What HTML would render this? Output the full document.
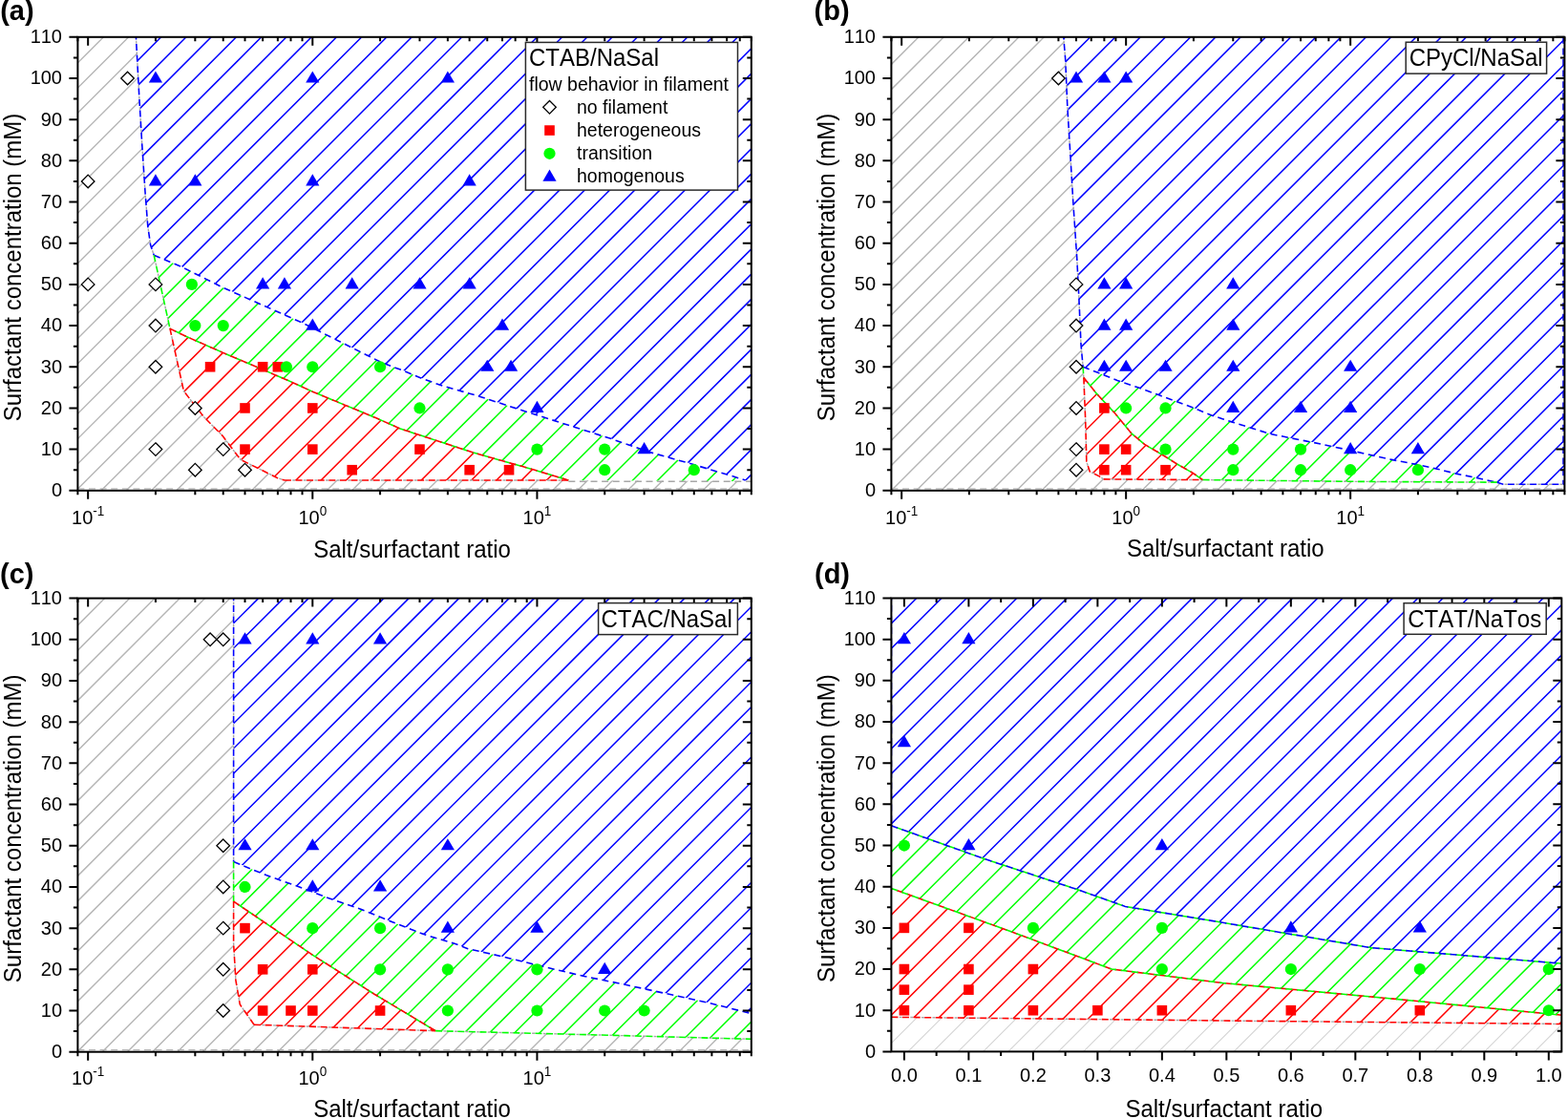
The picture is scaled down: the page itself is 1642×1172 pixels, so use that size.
<!DOCTYPE html>
<html><head><meta charset="utf-8"><title>Phase diagrams</title>
<style>html,body{margin:0;padding:0;background:#fff;overflow:hidden}svg{display:block}
text{font-family:"Liberation Sans",Arial,sans-serif;fill:#000;font-kerning:none}</style></head>
<body><svg width="1642" height="1172" viewBox="0 0 1642 1172">
<defs><clipPath id="p1"><rect x="81.4" y="38.8" width="705.4" height="475"/></clipPath><clipPath id="c2"><path d="M142.43 34.48 L142.43 38.8 L145.74 100.55 L148.72 151.07 L152.01 201.16 L154.76 236.57 L157.65 256.87 L161.19 267.23 L189.89 279.32 L232.9 300.91 L316.53 338.05 L400.1 379.94 L423.28 388.57 L440.83 395.91 L460.9 403.25 L501.19 414.91 L543.4 428.73 L640.12 459.61 L681.2 473.81 L720.46 484.87 L758.78 496.18 L780.72 503 L792.32 503 L792.32 34.48 Z"/></clipPath><clipPath id="c3"><path d="M161.19 267.23 L177.97 344.1 L194.72 352.3 L232.95 369.14 L299.8 397.64 L327.29 410.16 L361.65 424.41 L393.91 437.8 L419.21 449.03 L495.65 474.07 L555.45 490.91 L595.32 503 L792.32 504.3 L792.32 503 L780.72 503 L758.78 496.18 L720.46 484.87 L681.2 473.81 L640.12 459.61 L543.4 428.73 L501.19 414.91 L460.9 403.25 L440.83 395.91 L423.28 388.57 L400.1 379.94 L316.53 338.05 L232.9 300.91 L189.89 279.32 Z"/></clipPath><clipPath id="c4"><path d="M177.97 344.1 L192.45 409.73 L213.77 436.94 L232.95 456.37 L251.92 481.41 L290.28 500.41 L297.92 503 L595.32 503 L555.45 490.91 L495.65 474.07 L419.21 449.03 L393.91 437.8 L361.65 424.41 L327.29 410.16 L299.8 397.64 L232.95 369.14 L194.72 352.3 L177.97 344.1 Z"/></clipPath><clipPath id="p5"><rect x="933.4" y="38.8" width="705" height="475"/></clipPath><clipPath id="c6"><path d="M1113.78 34.48 L1113.78 38.8 L1115.7 62.55 L1117.77 111.35 L1120.88 162.73 L1123.91 213.69 L1127.7 269.39 L1129.87 312.14 L1132 360.94 L1134.08 383.82 L1149.79 390.3 L1170.09 398.5 L1191.63 405.85 L1213.13 413.62 L1230.88 420.1 L1251.41 427.87 L1269.35 435.21 L1280.14 438.66 L1290.59 442.12 L1329.9 454.38 L1351.08 458.7 L1372.52 462.85 L1394.64 467.6 L1415.17 471.91 L1437.74 477.1 L1459.54 481.85 L1481.79 486.16 L1503.93 490.91 L1524.91 496.1 L1545.73 500.41 L1567.66 505.16 L1574.24 507.32 L1643.92 507.32 L1643.92 34.48 Z"/></clipPath><clipPath id="c7"><path d="M1134.08 384.25 L1134.87 395.48 L1148.01 411.89 L1167.72 433.05 L1185.1 454.21 L1198.61 465.44 L1219.16 477.53 L1232.1 485.73 L1248.87 495.23 L1259.62 502.57 L1414.15 504.3 L1567.66 505.16 L1545.73 500.41 L1524.91 496.1 L1503.93 490.91 L1481.79 486.16 L1459.54 481.85 L1437.74 477.1 L1415.17 471.91 L1394.64 467.6 L1372.52 462.85 L1351.08 458.7 L1329.9 454.38 L1290.59 442.12 L1280.14 438.66 L1269.35 435.21 L1251.41 427.87 L1230.88 420.1 L1213.13 413.62 L1191.63 405.85 L1170.09 398.5 L1149.79 390.3 Z"/></clipPath><clipPath id="c8"><path d="M1134.87 395.48 L1136.75 441.69 L1137.82 483.57 L1141.28 493.94 L1151.14 498.9 L1155.74 501.92 L1259.62 502.57 L1248.87 495.23 L1232.1 485.73 L1219.16 477.53 L1198.61 465.44 L1185.1 454.21 L1167.72 433.05 L1148.01 411.89 L1134.87 395.48 Z"/></clipPath><clipPath id="p9"><rect x="81.4" y="626.6" width="705.4" height="475.1"/></clipPath><clipPath id="c10"><path d="M244.61 622.28 L244.61 902.59 L279.3 916.84 L312.25 928.5 L345.06 941.03 L377.81 952.26 L411.01 965.65 L443.81 978.61 L476.72 988.54 L490 993.72 L526.44 1001.93 L570.28 1012.73 L610.42 1022.23 L654.76 1031.3 L696.3 1040.37 L742.11 1050.3 L786.35 1061.53 L792.32 1062.83 L792.32 622.28 Z"/></clipPath><clipPath id="c11"><path d="M244.61 902.59 L244.61 944.05 L328 1000.63 L392.03 1041.23 L456.09 1079.67 L490 1080.54 L636.23 1084.21 L786.35 1088.31 L792.32 1088.53 L792.32 1062.83 L786.35 1061.53 L742.11 1050.3 L696.3 1040.37 L654.76 1031.3 L610.42 1022.23 L570.28 1012.73 L526.44 1001.93 L490 993.72 L476.72 988.54 L443.81 978.61 L411.01 965.65 L377.81 952.26 L345.06 941.03 L312.25 928.5 L279.3 916.84 Z"/></clipPath><clipPath id="c12"><path d="M244.61 944.05 L244.61 988.11 L246.88 1026.55 L251.27 1052.03 L266.06 1073.19 L456.09 1079.67 L392.03 1041.23 L328 1000.63 L244.61 944.05 Z"/></clipPath><clipPath id="p13"><rect x="933.4" y="626.5" width="701.9" height="474.9"/></clipPath><clipPath id="c14"><path d="M926.65 622.18 L926.65 863.09 L933.4 864.81 L1030.32 899.35 L1128.45 931.73 L1178.39 949.43 L1280.3 966.27 L1435.26 992.6 L1633.28 1009.01 L1642.05 1009.44 L1642.05 622.18 Z"/></clipPath><clipPath id="c15"><path d="M926.65 863.09 L933.4 864.81 L1030.32 899.35 L1128.45 931.73 L1178.39 949.43 L1280.3 966.27 L1435.26 992.6 L1633.28 1009.01 L1642.05 1009.44 L1642.05 1063.41 L1633.28 1062.98 L1459.15 1046.14 L1280.3 1029.52 L1164.22 1015.05 L1058.93 975.77 L933.4 930.44 L926.65 928.71 Z"/></clipPath><clipPath id="c16"><path d="M926.65 928.71 L933.4 930.44 L1058.93 975.77 L1164.22 1015.05 L1280.3 1029.52 L1459.15 1046.14 L1633.28 1062.98 L1642.05 1063.41 L1642.05 1072.47 L1633.28 1072.47 L1280.3 1069.02 L933.4 1065.31 L926.65 1065.13 Z"/></clipPath></defs>
<rect width="1642" height="1172" fill="#fff"/>
<g clip-path="url(#p1)">
<path d="M81.4 39.6 L82.2 38.8M81.4 65.85 L108.45 38.8M81.4 92.1 L134.7 38.8M81.4 118.35 L160.95 38.8M81.4 144.6 L187.2 38.8M81.4 170.85 L213.45 38.8M81.4 197.1 L239.7 38.8M81.4 223.35 L265.95 38.8M81.4 249.6 L292.2 38.8M81.4 275.85 L318.45 38.8M81.4 302.1 L344.7 38.8M81.4 328.35 L370.95 38.8M81.4 354.6 L397.2 38.8M81.4 380.85 L423.45 38.8M81.4 407.1 L449.7 38.8M81.4 433.35 L475.95 38.8M81.4 459.6 L502.2 38.8M81.4 485.85 L528.45 38.8M81.4 512.1 L554.7 38.8M105.95 513.8 L580.95 38.8M132.2 513.8 L607.2 38.8M158.45 513.8 L633.45 38.8M184.7 513.8 L659.7 38.8M210.95 513.8 L685.95 38.8M237.2 513.8 L712.2 38.8M263.45 513.8 L738.45 38.8M289.7 513.8 L764.7 38.8M315.95 513.8 L786.8 42.95M342.2 513.8 L786.8 69.2M368.45 513.8 L786.8 95.45M394.7 513.8 L786.8 121.7M420.95 513.8 L786.8 147.95M447.2 513.8 L786.8 174.2M473.45 513.8 L786.8 200.45M499.7 513.8 L786.8 226.7M525.95 513.8 L786.8 252.95M552.2 513.8 L786.8 279.2M578.45 513.8 L786.8 305.45M604.7 513.8 L786.8 331.7M630.95 513.8 L786.8 357.95M657.2 513.8 L786.8 384.2M683.45 513.8 L786.8 410.45M709.7 513.8 L786.8 436.7M735.95 513.8 L786.8 462.95M762.2 513.8 L786.8 489.2" stroke="#b5b5b5" stroke-width="1.4" fill="none"/>
</g>
<g clip-path="url(#p1)">
<path d="M142.43 34.48 L142.43 38.8 L145.74 100.55 L148.72 151.07 L152.01 201.16 L154.76 236.57 L157.65 256.87 L161.19 267.23 L189.89 279.32 L232.9 300.91 L316.53 338.05 L400.1 379.94 L423.28 388.57 L440.83 395.91 L460.9 403.25 L501.19 414.91 L543.4 428.73 L640.12 459.61 L681.2 473.81 L720.46 484.87 L758.78 496.18 L780.72 503 L792.32 503 L792.32 34.48 Z" fill="#fff"/>
<path clip-path="url(#c2)" d="M81.4 47.4 L90 38.8M81.4 73.65 L116.25 38.8M81.4 99.9 L142.5 38.8M81.4 126.15 L168.75 38.8M81.4 152.4 L195 38.8M81.4 178.65 L221.25 38.8M81.4 204.9 L247.5 38.8M81.4 231.15 L273.75 38.8M81.4 257.4 L300 38.8M81.4 283.65 L326.25 38.8M81.4 309.9 L352.5 38.8M81.4 336.15 L378.75 38.8M81.4 362.4 L405 38.8M81.4 388.65 L431.25 38.8M81.4 414.9 L457.5 38.8M81.4 441.15 L483.75 38.8M81.4 467.4 L510 38.8M81.4 493.65 L536.25 38.8M87.5 513.8 L562.5 38.8M113.75 513.8 L588.75 38.8M140 513.8 L615 38.8M166.25 513.8 L641.25 38.8M192.5 513.8 L667.5 38.8M218.75 513.8 L693.75 38.8M245 513.8 L720 38.8M271.25 513.8 L746.25 38.8M297.5 513.8 L772.5 38.8M323.75 513.8 L786.8 50.75M350 513.8 L786.8 77M376.25 513.8 L786.8 103.25M402.5 513.8 L786.8 129.5M428.75 513.8 L786.8 155.75M455 513.8 L786.8 182M481.25 513.8 L786.8 208.25M507.5 513.8 L786.8 234.5M533.75 513.8 L786.8 260.75M560 513.8 L786.8 287M586.25 513.8 L786.8 313.25M612.5 513.8 L786.8 339.5M638.75 513.8 L786.8 365.75M665 513.8 L786.8 392M691.25 513.8 L786.8 418.25M717.5 513.8 L786.8 444.5M743.75 513.8 L786.8 470.75M770 513.8 L786.8 497" stroke="#0000ff" stroke-width="1.55" fill="none"/>
</g>
<g clip-path="url(#p1)">
<path d="M161.19 267.23 L177.97 344.1 L194.72 352.3 L232.95 369.14 L299.8 397.64 L327.29 410.16 L361.65 424.41 L393.91 437.8 L419.21 449.03 L495.65 474.07 L555.45 490.91 L595.32 503 L792.32 504.3 L792.32 503 L780.72 503 L758.78 496.18 L720.46 484.87 L681.2 473.81 L640.12 459.61 L543.4 428.73 L501.19 414.91 L460.9 403.25 L440.83 395.91 L423.28 388.57 L400.1 379.94 L316.53 338.05 L232.9 300.91 L189.89 279.32 Z" fill="#fff"/>
<path clip-path="url(#c3)" d="M81.4 60.45 L103.05 38.8M81.4 86.7 L129.3 38.8M81.4 112.95 L155.55 38.8M81.4 139.2 L181.8 38.8M81.4 165.45 L208.05 38.8M81.4 191.7 L234.3 38.8M81.4 217.95 L260.55 38.8M81.4 244.2 L286.8 38.8M81.4 270.45 L313.05 38.8M81.4 296.7 L339.3 38.8M81.4 322.95 L365.55 38.8M81.4 349.2 L391.8 38.8M81.4 375.45 L418.05 38.8M81.4 401.7 L444.3 38.8M81.4 427.95 L470.55 38.8M81.4 454.2 L496.8 38.8M81.4 480.45 L523.05 38.8M81.4 506.7 L549.3 38.8M100.55 513.8 L575.55 38.8M126.8 513.8 L601.8 38.8M153.05 513.8 L628.05 38.8M179.3 513.8 L654.3 38.8M205.55 513.8 L680.55 38.8M231.8 513.8 L706.8 38.8M258.05 513.8 L733.05 38.8M284.3 513.8 L759.3 38.8M310.55 513.8 L785.55 38.8M336.8 513.8 L786.8 63.8M363.05 513.8 L786.8 90.05M389.3 513.8 L786.8 116.3M415.55 513.8 L786.8 142.55M441.8 513.8 L786.8 168.8M468.05 513.8 L786.8 195.05M494.3 513.8 L786.8 221.3M520.55 513.8 L786.8 247.55M546.8 513.8 L786.8 273.8M573.05 513.8 L786.8 300.05M599.3 513.8 L786.8 326.3M625.55 513.8 L786.8 352.55M651.8 513.8 L786.8 378.8M678.05 513.8 L786.8 405.05M704.3 513.8 L786.8 431.3M730.55 513.8 L786.8 457.55M756.8 513.8 L786.8 483.8M783.05 513.8 L786.8 510.05" stroke="#00ff00" stroke-width="1.5" fill="none"/>
</g>
<g clip-path="url(#p1)">
<path d="M177.97 344.1 L192.45 409.73 L213.77 436.94 L232.95 456.37 L251.92 481.41 L290.28 500.41 L297.92 503 L595.32 503 L555.45 490.91 L495.65 474.07 L419.21 449.03 L393.91 437.8 L361.65 424.41 L327.29 410.16 L299.8 397.64 L232.95 369.14 L194.72 352.3 L177.97 344.1 Z" fill="#fff"/>
<path clip-path="url(#c4)" d="M81.4 49 L91.6 38.8M81.4 75.25 L117.85 38.8M81.4 101.5 L144.1 38.8M81.4 127.75 L170.35 38.8M81.4 154 L196.6 38.8M81.4 180.25 L222.85 38.8M81.4 206.5 L249.1 38.8M81.4 232.75 L275.35 38.8M81.4 259 L301.6 38.8M81.4 285.25 L327.85 38.8M81.4 311.5 L354.1 38.8M81.4 337.75 L380.35 38.8M81.4 364 L406.6 38.8M81.4 390.25 L432.85 38.8M81.4 416.5 L459.1 38.8M81.4 442.75 L485.35 38.8M81.4 469 L511.6 38.8M81.4 495.25 L537.85 38.8M89.1 513.8 L564.1 38.8M115.35 513.8 L590.35 38.8M141.6 513.8 L616.6 38.8M167.85 513.8 L642.85 38.8M194.1 513.8 L669.1 38.8M220.35 513.8 L695.35 38.8M246.6 513.8 L721.6 38.8M272.85 513.8 L747.85 38.8M299.1 513.8 L774.1 38.8M325.35 513.8 L786.8 52.35M351.6 513.8 L786.8 78.6M377.85 513.8 L786.8 104.85M404.1 513.8 L786.8 131.1M430.35 513.8 L786.8 157.35M456.6 513.8 L786.8 183.6M482.85 513.8 L786.8 209.85M509.1 513.8 L786.8 236.1M535.35 513.8 L786.8 262.35M561.6 513.8 L786.8 288.6M587.85 513.8 L786.8 314.85M614.1 513.8 L786.8 341.1M640.35 513.8 L786.8 367.35M666.6 513.8 L786.8 393.6M692.85 513.8 L786.8 419.85M719.1 513.8 L786.8 446.1M745.35 513.8 L786.8 472.35M771.6 513.8 L786.8 498.6" stroke="#ff0000" stroke-width="1.5" fill="none"/>
</g>
<path d="M81.4 511.8 H786.8" stroke="#b8b8b8" stroke-width="1.2" stroke-dasharray="7 4.6" fill="none"/>
<path clip-path="url(#p1)" d="M142.43 34.48 L142.43 38.8 L145.74 100.55 L148.72 151.07 L152.01 201.16 L154.76 236.57 L157.65 256.87 L161.19 267.23" stroke="#a8a8a8" stroke-width="1.4" fill="none" stroke-dasharray="3 8.6" stroke-dashoffset="3.3"/>
<path clip-path="url(#p1)" d="M161.19 267.23 L177.97 344.1" stroke="#a8a8a8" stroke-width="1.4" fill="none" stroke-dasharray="3 8.6" stroke-dashoffset="3.3"/>
<path clip-path="url(#p1)" d="M177.97 344.1 L194.72 352.3 L232.95 369.14 L299.8 397.64 L327.29 410.16 L361.65 424.41 L393.91 437.8 L419.21 449.03 L495.65 474.07 L555.45 490.91 L595.32 503" stroke="#00ff00" stroke-width="1.55" fill="none" stroke-dasharray="7 4.6" stroke-dashoffset="5.8"/>
<path clip-path="url(#p1)" d="M177.97 344.1 L192.45 409.73 L213.77 436.94 L232.95 456.37 L251.92 481.41 L290.28 500.41 L297.92 503" stroke="#a8a8a8" stroke-width="1.4" fill="none" stroke-dasharray="3 8.6" stroke-dashoffset="3.3"/>
<path clip-path="url(#p1)" d="M297.92 503 L595.32 503" stroke="#a8a8a8" stroke-width="1.4" fill="none" stroke-dasharray="3 8.6" stroke-dashoffset="3.3"/>
<path clip-path="url(#p1)" d="M142.43 34.48 L142.43 38.8 L145.74 100.55 L148.72 151.07 L152.01 201.16 L154.76 236.57 L157.65 256.87 L161.19 267.23" stroke="#0000ff" stroke-width="1.6" fill="none" stroke-dasharray="7 4.6" stroke-dashoffset="0"/>
<path clip-path="url(#p1)" d="M161.19 267.23 L189.89 279.32 L232.9 300.91 L316.53 338.05 L400.1 379.94 L423.28 388.57 L440.83 395.91 L460.9 403.25 L501.19 414.91 L543.4 428.73 L640.12 459.61 L681.2 473.81 L720.46 484.87 L758.78 496.18 L780.72 503" stroke="#0000ff" stroke-width="1.6" fill="none" stroke-dasharray="7 4.6" stroke-dashoffset="0"/>
<path clip-path="url(#p1)" d="M161.19 267.23 L177.97 344.1" stroke="#00ff00" stroke-width="1.6" fill="none" stroke-dasharray="7 4.6" stroke-dashoffset="0"/>
<path clip-path="url(#p1)" d="M177.97 344.1 L194.72 352.3 L232.95 369.14 L299.8 397.64 L327.29 410.16 L361.65 424.41 L393.91 437.8 L419.21 449.03 L495.65 474.07 L555.45 490.91 L595.32 503" stroke="#ff0000" stroke-width="1.6" fill="none" stroke-dasharray="7 4.6" stroke-dashoffset="0"/>
<path clip-path="url(#p1)" d="M177.97 344.1 L192.45 409.73 L213.77 436.94 L232.95 456.37 L251.92 481.41 L290.28 500.41 L297.92 503" stroke="#ff0000" stroke-width="1.6" fill="none" stroke-dasharray="7 4.6" stroke-dashoffset="0"/>
<path clip-path="url(#p1)" d="M297.92 503 L595.32 503" stroke="#ff0000" stroke-width="1.6" fill="none" stroke-dasharray="7 4.6" stroke-dashoffset="0"/>
<path clip-path="url(#p1)" d="M595.32 504.3 L792.32 504.3" stroke="#a8a8a8" stroke-width="1.6" fill="none" stroke-dasharray="7 4.6" stroke-dashoffset="0"/>
<path d="M133.56 75.18 L140.36 81.98 L133.56 88.78 L126.76 81.98 Z" fill="#fff" stroke="#000" stroke-width="1.3"/>
<path d="M92.16 183.14 L98.96 189.94 L92.16 196.74 L85.36 189.94 Z" fill="#fff" stroke="#000" stroke-width="1.3"/>
<path d="M92.16 291.09 L98.96 297.89 L92.16 304.69 L85.36 297.89 Z" fill="#fff" stroke="#000" stroke-width="1.3"/>
<path d="M162.94 291.09 L169.74 297.89 L162.94 304.69 L156.14 297.89 Z" fill="#fff" stroke="#000" stroke-width="1.3"/>
<path d="M162.94 334.27 L169.74 341.07 L162.94 347.87 L156.14 341.07 Z" fill="#fff" stroke="#000" stroke-width="1.3"/>
<path d="M162.94 377.45 L169.74 384.25 L162.94 391.05 L156.14 384.25 Z" fill="#fff" stroke="#000" stroke-width="1.3"/>
<path d="M162.94 463.82 L169.74 470.62 L162.94 477.42 L156.14 470.62 Z" fill="#fff" stroke="#000" stroke-width="1.3"/>
<path d="M204.35 420.64 L211.15 427.44 L204.35 434.24 L197.55 427.44 Z" fill="#fff" stroke="#000" stroke-width="1.3"/>
<path d="M204.35 485.41 L211.15 492.21 L204.35 499.01 L197.55 492.21 Z" fill="#fff" stroke="#000" stroke-width="1.3"/>
<path d="M233.72 463.82 L240.52 470.62 L233.72 477.42 L226.92 470.62 Z" fill="#fff" stroke="#000" stroke-width="1.3"/>
<path d="M256.51 485.41 L263.31 492.21 L256.51 499.01 L249.71 492.21 Z" fill="#fff" stroke="#000" stroke-width="1.3"/>
<rect x="214.79" y="378.95" width="10.6" height="10.6" fill="#f00"/>
<rect x="269.83" y="378.95" width="10.6" height="10.6" fill="#f00"/>
<rect x="285.57" y="378.95" width="10.6" height="10.6" fill="#f00"/>
<rect x="251.21" y="422.14" width="10.6" height="10.6" fill="#f00"/>
<rect x="251.21" y="465.32" width="10.6" height="10.6" fill="#f00"/>
<rect x="321.99" y="422.14" width="10.6" height="10.6" fill="#f00"/>
<rect x="321.99" y="465.32" width="10.6" height="10.6" fill="#f00"/>
<rect x="363.4" y="486.91" width="10.6" height="10.6" fill="#f00"/>
<rect x="434.18" y="465.32" width="10.6" height="10.6" fill="#f00"/>
<rect x="486.34" y="486.91" width="10.6" height="10.6" fill="#f00"/>
<rect x="527.75" y="486.91" width="10.6" height="10.6" fill="#f00"/>
<circle cx="200.88" cy="297.89" r="6.1" fill="#00ff00"/>
<circle cx="204.35" cy="341.07" r="6.1" fill="#00ff00"/>
<circle cx="233.72" cy="341.07" r="6.1" fill="#00ff00"/>
<circle cx="299.94" cy="384.25" r="6.1" fill="#00ff00"/>
<circle cx="327.29" cy="384.25" r="6.1" fill="#00ff00"/>
<circle cx="398.07" cy="384.25" r="6.1" fill="#00ff00"/>
<circle cx="439.48" cy="427.44" r="6.1" fill="#00ff00"/>
<circle cx="562.43" cy="470.62" r="6.1" fill="#00ff00"/>
<circle cx="633.21" cy="470.62" r="6.1" fill="#00ff00"/>
<circle cx="633.21" cy="492.21" r="6.1" fill="#00ff00"/>
<circle cx="726.78" cy="492.21" r="6.1" fill="#00ff00"/>
<path d="M162.94 74.38 L170.04 86.58 L155.84 86.58 Z" fill="#0000ff"/>
<path d="M327.29 74.38 L334.39 86.58 L320.19 86.58 Z" fill="#0000ff"/>
<path d="M468.86 74.38 L475.96 86.58 L461.76 86.58 Z" fill="#0000ff"/>
<path d="M162.94 182.34 L170.04 194.54 L155.84 194.54 Z" fill="#0000ff"/>
<path d="M204.35 182.34 L211.45 194.54 L197.25 194.54 Z" fill="#0000ff"/>
<path d="M327.29 182.34 L334.39 194.54 L320.19 194.54 Z" fill="#0000ff"/>
<path d="M491.64 182.34 L498.74 194.54 L484.54 194.54 Z" fill="#0000ff"/>
<path d="M275.13 290.29 L282.23 302.49 L268.03 302.49 Z" fill="#0000ff"/>
<path d="M297.92 290.29 L305.02 302.49 L290.82 302.49 Z" fill="#0000ff"/>
<path d="M368.7 290.29 L375.8 302.49 L361.6 302.49 Z" fill="#0000ff"/>
<path d="M439.48 290.29 L446.58 302.49 L432.38 302.49 Z" fill="#0000ff"/>
<path d="M491.64 290.29 L498.74 302.49 L484.54 302.49 Z" fill="#0000ff"/>
<path d="M327.29 333.47 L334.39 345.67 L320.19 345.67 Z" fill="#0000ff"/>
<path d="M526 333.47 L533.1 345.67 L518.9 345.67 Z" fill="#0000ff"/>
<path d="M510.26 376.65 L517.36 388.85 L503.16 388.85 Z" fill="#0000ff"/>
<path d="M535.07 376.65 L542.17 388.85 L527.97 388.85 Z" fill="#0000ff"/>
<path d="M562.43 419.84 L569.53 432.04 L555.33 432.04 Z" fill="#0000ff"/>
<path d="M674.61 463.02 L681.71 475.22 L667.51 475.22 Z" fill="#0000ff"/>
<g clip-path="url(#p5)">
<path d="M933.4 41.2 L935.8 38.8M933.4 67.45 L962.05 38.8M933.4 93.7 L988.3 38.8M933.4 119.95 L1014.55 38.8M933.4 146.2 L1040.8 38.8M933.4 172.45 L1067.05 38.8M933.4 198.7 L1093.3 38.8M933.4 224.95 L1119.55 38.8M933.4 251.2 L1145.8 38.8M933.4 277.45 L1172.05 38.8M933.4 303.7 L1198.3 38.8M933.4 329.95 L1224.55 38.8M933.4 356.2 L1250.8 38.8M933.4 382.45 L1277.05 38.8M933.4 408.7 L1303.3 38.8M933.4 434.95 L1329.55 38.8M933.4 461.2 L1355.8 38.8M933.4 487.45 L1382.05 38.8M933.4 513.7 L1408.3 38.8M959.55 513.8 L1434.55 38.8M985.8 513.8 L1460.8 38.8M1012.05 513.8 L1487.05 38.8M1038.3 513.8 L1513.3 38.8M1064.55 513.8 L1539.55 38.8M1090.8 513.8 L1565.8 38.8M1117.05 513.8 L1592.05 38.8M1143.3 513.8 L1618.3 38.8M1169.55 513.8 L1638.4 44.95M1195.8 513.8 L1638.4 71.2M1222.05 513.8 L1638.4 97.45M1248.3 513.8 L1638.4 123.7M1274.55 513.8 L1638.4 149.95M1300.8 513.8 L1638.4 176.2M1327.05 513.8 L1638.4 202.45M1353.3 513.8 L1638.4 228.7M1379.55 513.8 L1638.4 254.95M1405.8 513.8 L1638.4 281.2M1432.05 513.8 L1638.4 307.45M1458.3 513.8 L1638.4 333.7M1484.55 513.8 L1638.4 359.95M1510.8 513.8 L1638.4 386.2M1537.05 513.8 L1638.4 412.45M1563.3 513.8 L1638.4 438.7M1589.55 513.8 L1638.4 464.95M1615.8 513.8 L1638.4 491.2" stroke="#b5b5b5" stroke-width="1.4" fill="none"/>
</g>
<g clip-path="url(#p5)">
<path d="M1113.78 34.48 L1113.78 38.8 L1115.7 62.55 L1117.77 111.35 L1120.88 162.73 L1123.91 213.69 L1127.7 269.39 L1129.87 312.14 L1132 360.94 L1134.08 383.82 L1149.79 390.3 L1170.09 398.5 L1191.63 405.85 L1213.13 413.62 L1230.88 420.1 L1251.41 427.87 L1269.35 435.21 L1280.14 438.66 L1290.59 442.12 L1329.9 454.38 L1351.08 458.7 L1372.52 462.85 L1394.64 467.6 L1415.17 471.91 L1437.74 477.1 L1459.54 481.85 L1481.79 486.16 L1503.93 490.91 L1524.91 496.1 L1545.73 500.41 L1567.66 505.16 L1574.24 507.32 L1643.92 507.32 L1643.92 34.48 Z" fill="#fff"/>
<path clip-path="url(#c6)" d="M933.4 63.45 L958.05 38.8M933.4 89.7 L984.3 38.8M933.4 115.95 L1010.55 38.8M933.4 142.2 L1036.8 38.8M933.4 168.45 L1063.05 38.8M933.4 194.7 L1089.3 38.8M933.4 220.95 L1115.55 38.8M933.4 247.2 L1141.8 38.8M933.4 273.45 L1168.05 38.8M933.4 299.7 L1194.3 38.8M933.4 325.95 L1220.55 38.8M933.4 352.2 L1246.8 38.8M933.4 378.45 L1273.05 38.8M933.4 404.7 L1299.3 38.8M933.4 430.95 L1325.55 38.8M933.4 457.2 L1351.8 38.8M933.4 483.45 L1378.05 38.8M933.4 509.7 L1404.3 38.8M955.55 513.8 L1430.55 38.8M981.8 513.8 L1456.8 38.8M1008.05 513.8 L1483.05 38.8M1034.3 513.8 L1509.3 38.8M1060.55 513.8 L1535.55 38.8M1086.8 513.8 L1561.8 38.8M1113.05 513.8 L1588.05 38.8M1139.3 513.8 L1614.3 38.8M1165.55 513.8 L1638.4 40.95M1191.8 513.8 L1638.4 67.2M1218.05 513.8 L1638.4 93.45M1244.3 513.8 L1638.4 119.7M1270.55 513.8 L1638.4 145.95M1296.8 513.8 L1638.4 172.2M1323.05 513.8 L1638.4 198.45M1349.3 513.8 L1638.4 224.7M1375.55 513.8 L1638.4 250.95M1401.8 513.8 L1638.4 277.2M1428.05 513.8 L1638.4 303.45M1454.3 513.8 L1638.4 329.7M1480.55 513.8 L1638.4 355.95M1506.8 513.8 L1638.4 382.2M1533.05 513.8 L1638.4 408.45M1559.3 513.8 L1638.4 434.7M1585.55 513.8 L1638.4 460.95M1611.8 513.8 L1638.4 487.2M1638.05 513.8 L1638.4 513.45" stroke="#0000ff" stroke-width="1.55" fill="none"/>
</g>
<g clip-path="url(#p5)">
<path d="M1134.08 384.25 L1134.87 395.48 L1148.01 411.89 L1167.72 433.05 L1185.1 454.21 L1198.61 465.44 L1219.16 477.53 L1232.1 485.73 L1248.87 495.23 L1259.62 502.57 L1414.15 504.3 L1567.66 505.16 L1545.73 500.41 L1524.91 496.1 L1503.93 490.91 L1481.79 486.16 L1459.54 481.85 L1437.74 477.1 L1415.17 471.91 L1394.64 467.6 L1372.52 462.85 L1351.08 458.7 L1329.9 454.38 L1290.59 442.12 L1280.14 438.66 L1269.35 435.21 L1251.41 427.87 L1230.88 420.1 L1213.13 413.62 L1191.63 405.85 L1170.09 398.5 L1149.79 390.3 Z" fill="#fff"/>
<path clip-path="url(#c7)" d="M933.4 61.15 L955.75 38.8M933.4 87.4 L982 38.8M933.4 113.65 L1008.25 38.8M933.4 139.9 L1034.5 38.8M933.4 166.15 L1060.75 38.8M933.4 192.4 L1087 38.8M933.4 218.65 L1113.25 38.8M933.4 244.9 L1139.5 38.8M933.4 271.15 L1165.75 38.8M933.4 297.4 L1192 38.8M933.4 323.65 L1218.25 38.8M933.4 349.9 L1244.5 38.8M933.4 376.15 L1270.75 38.8M933.4 402.4 L1297 38.8M933.4 428.65 L1323.25 38.8M933.4 454.9 L1349.5 38.8M933.4 481.15 L1375.75 38.8M933.4 507.4 L1402 38.8M953.25 513.8 L1428.25 38.8M979.5 513.8 L1454.5 38.8M1005.75 513.8 L1480.75 38.8M1032 513.8 L1507 38.8M1058.25 513.8 L1533.25 38.8M1084.5 513.8 L1559.5 38.8M1110.75 513.8 L1585.75 38.8M1137 513.8 L1612 38.8M1163.25 513.8 L1638.25 38.8M1189.5 513.8 L1638.4 64.9M1215.75 513.8 L1638.4 91.15M1242 513.8 L1638.4 117.4M1268.25 513.8 L1638.4 143.65M1294.5 513.8 L1638.4 169.9M1320.75 513.8 L1638.4 196.15M1347 513.8 L1638.4 222.4M1373.25 513.8 L1638.4 248.65M1399.5 513.8 L1638.4 274.9M1425.75 513.8 L1638.4 301.15M1452 513.8 L1638.4 327.4M1478.25 513.8 L1638.4 353.65M1504.5 513.8 L1638.4 379.9M1530.75 513.8 L1638.4 406.15M1557 513.8 L1638.4 432.4M1583.25 513.8 L1638.4 458.65M1609.5 513.8 L1638.4 484.9M1635.75 513.8 L1638.4 511.15" stroke="#00ff00" stroke-width="1.5" fill="none"/>
</g>
<g clip-path="url(#p5)">
<path d="M1134.87 395.48 L1136.75 441.69 L1137.82 483.57 L1141.28 493.94 L1151.14 498.9 L1155.74 501.92 L1259.62 502.57 L1248.87 495.23 L1232.1 485.73 L1219.16 477.53 L1198.61 465.44 L1185.1 454.21 L1167.72 433.05 L1148.01 411.89 L1134.87 395.48 Z" fill="#fff"/>
<path clip-path="url(#c8)" d="M933.4 50.35 L944.95 38.8M933.4 76.6 L971.2 38.8M933.4 102.85 L997.45 38.8M933.4 129.1 L1023.7 38.8M933.4 155.35 L1049.95 38.8M933.4 181.6 L1076.2 38.8M933.4 207.85 L1102.45 38.8M933.4 234.1 L1128.7 38.8M933.4 260.35 L1154.95 38.8M933.4 286.6 L1181.2 38.8M933.4 312.85 L1207.45 38.8M933.4 339.1 L1233.7 38.8M933.4 365.35 L1259.95 38.8M933.4 391.6 L1286.2 38.8M933.4 417.85 L1312.45 38.8M933.4 444.1 L1338.7 38.8M933.4 470.35 L1364.95 38.8M933.4 496.6 L1391.2 38.8M942.45 513.8 L1417.45 38.8M968.7 513.8 L1443.7 38.8M994.95 513.8 L1469.95 38.8M1021.2 513.8 L1496.2 38.8M1047.45 513.8 L1522.45 38.8M1073.7 513.8 L1548.7 38.8M1099.95 513.8 L1574.95 38.8M1126.2 513.8 L1601.2 38.8M1152.45 513.8 L1627.45 38.8M1178.7 513.8 L1638.4 54.1M1204.95 513.8 L1638.4 80.35M1231.2 513.8 L1638.4 106.6M1257.45 513.8 L1638.4 132.85M1283.7 513.8 L1638.4 159.1M1309.95 513.8 L1638.4 185.35M1336.2 513.8 L1638.4 211.6M1362.45 513.8 L1638.4 237.85M1388.7 513.8 L1638.4 264.1M1414.95 513.8 L1638.4 290.35M1441.2 513.8 L1638.4 316.6M1467.45 513.8 L1638.4 342.85M1493.7 513.8 L1638.4 369.1M1519.95 513.8 L1638.4 395.35M1546.2 513.8 L1638.4 421.6M1572.45 513.8 L1638.4 447.85M1598.7 513.8 L1638.4 474.1M1624.95 513.8 L1638.4 500.35" stroke="#ff0000" stroke-width="1.5" fill="none"/>
</g>
<path d="M933.4 511.8 H1638.4" stroke="#b8b8b8" stroke-width="1.2" stroke-dasharray="7 4.6" fill="none"/>
<path clip-path="url(#p5)" d="M1113.78 34.48 L1113.78 38.8 L1115.7 62.55 L1117.77 111.35 L1120.88 162.73 L1123.91 213.69 L1127.7 269.39 L1129.87 312.14 L1132 360.94 L1134.08 383.82" stroke="#a8a8a8" stroke-width="1.4" fill="none" stroke-dasharray="3 8.6" stroke-dashoffset="3.3"/>
<path clip-path="url(#p5)" d="M1567.66 505.16 L1574.24 507.32 L1643.92 507.32" stroke="#a8a8a8" stroke-width="1.4" fill="none" stroke-dasharray="3 8.6" stroke-dashoffset="3.3"/>
<path clip-path="url(#p5)" d="M1134.08 384.25 L1134.87 395.48" stroke="#a8a8a8" stroke-width="1.4" fill="none" stroke-dasharray="3 8.6" stroke-dashoffset="3.3"/>
<path clip-path="url(#p5)" d="M1134.87 395.48 L1148.01 411.89 L1167.72 433.05 L1185.1 454.21 L1198.61 465.44 L1219.16 477.53 L1232.1 485.73 L1248.87 495.23 L1259.62 502.57" stroke="#00ff00" stroke-width="1.55" fill="none" stroke-dasharray="7 4.6" stroke-dashoffset="5.8"/>
<path clip-path="url(#p5)" d="M1134.87 395.48 L1136.75 441.69 L1137.82 483.57 L1141.28 493.94 L1151.14 498.9 L1155.74 501.92" stroke="#a8a8a8" stroke-width="1.4" fill="none" stroke-dasharray="3 8.6" stroke-dashoffset="3.3"/>
<path clip-path="url(#p5)" d="M1155.74 501.92 L1259.62 502.57" stroke="#a8a8a8" stroke-width="1.4" fill="none" stroke-dasharray="3 8.6" stroke-dashoffset="3.3"/>
<path clip-path="url(#p5)" d="M1259.62 502.57 L1414.15 504.3 L1567.66 505.16" stroke="#a8a8a8" stroke-width="1.4" fill="none" stroke-dasharray="3 8.6" stroke-dashoffset="3.3"/>
<path clip-path="url(#p5)" d="M1113.78 34.48 L1113.78 38.8 L1115.7 62.55 L1117.77 111.35 L1120.88 162.73 L1123.91 213.69 L1127.7 269.39 L1129.87 312.14 L1132 360.94 L1134.08 383.82" stroke="#0000ff" stroke-width="1.6" fill="none" stroke-dasharray="7 4.6" stroke-dashoffset="0"/>
<path clip-path="url(#p5)" d="M1134.08 384.25 L1149.79 390.3 L1170.09 398.5 L1191.63 405.85 L1213.13 413.62 L1230.88 420.1 L1251.41 427.87 L1269.35 435.21 L1280.14 438.66 L1290.59 442.12 L1329.9 454.38 L1351.08 458.7 L1372.52 462.85 L1394.64 467.6 L1415.17 471.91 L1437.74 477.1 L1459.54 481.85 L1481.79 486.16 L1503.93 490.91 L1524.91 496.1 L1545.73 500.41 L1567.66 505.16" stroke="#0000ff" stroke-width="1.6" fill="none" stroke-dasharray="7 4.6" stroke-dashoffset="0"/>
<path clip-path="url(#p5)" d="M1567.66 505.16 L1574.24 507.32 L1643.92 507.32" stroke="#0000ff" stroke-width="1.6" fill="none" stroke-dasharray="7 4.6" stroke-dashoffset="0"/>
<path clip-path="url(#p5)" d="M1134.08 384.25 L1134.87 395.48" stroke="#00ff00" stroke-width="1.6" fill="none" stroke-dasharray="7 4.6" stroke-dashoffset="0"/>
<path clip-path="url(#p5)" d="M1134.87 395.48 L1148.01 411.89 L1167.72 433.05 L1185.1 454.21 L1198.61 465.44 L1219.16 477.53 L1232.1 485.73 L1248.87 495.23 L1259.62 502.57" stroke="#ff0000" stroke-width="1.6" fill="none" stroke-dasharray="7 4.6" stroke-dashoffset="0"/>
<path clip-path="url(#p5)" d="M1134.87 395.48 L1136.75 441.69 L1137.82 483.57 L1141.28 493.94 L1151.14 498.9 L1155.74 501.92" stroke="#ff0000" stroke-width="1.6" fill="none" stroke-dasharray="7 4.6" stroke-dashoffset="0"/>
<path clip-path="url(#p5)" d="M1155.74 501.92 L1259.62 502.57" stroke="#ff0000" stroke-width="1.6" fill="none" stroke-dasharray="7 4.6" stroke-dashoffset="0"/>
<path clip-path="url(#p5)" d="M1259.62 502.57 L1414.15 504.3 L1567.66 505.16" stroke="#00ff00" stroke-width="1.6" fill="none" stroke-dasharray="7 4.6" stroke-dashoffset="0"/>
<path clip-path="url(#p5)" d="M1637.03 38.8 L1637.03 507.32" stroke="#0000ff" stroke-width="1.6" fill="none" stroke-dasharray="7 4.6" stroke-dashoffset="0"/>
<path d="M1108.41 75.18 L1115.21 81.98 L1108.41 88.78 L1101.61 81.98 Z" fill="#fff" stroke="#000" stroke-width="1.3"/>
<path d="M1127.02 291.09 L1133.82 297.89 L1127.02 304.69 L1120.22 297.89 Z" fill="#fff" stroke="#000" stroke-width="1.3"/>
<path d="M1127.02 334.27 L1133.82 341.07 L1127.02 347.87 L1120.22 341.07 Z" fill="#fff" stroke="#000" stroke-width="1.3"/>
<path d="M1127.02 377.45 L1133.82 384.25 L1127.02 391.05 L1120.22 384.25 Z" fill="#fff" stroke="#000" stroke-width="1.3"/>
<path d="M1127.02 420.64 L1133.82 427.44 L1127.02 434.24 L1120.22 427.44 Z" fill="#fff" stroke="#000" stroke-width="1.3"/>
<path d="M1127.02 463.82 L1133.82 470.62 L1127.02 477.42 L1120.22 470.62 Z" fill="#fff" stroke="#000" stroke-width="1.3"/>
<path d="M1127.02 485.41 L1133.82 492.21 L1127.02 499.01 L1120.22 492.21 Z" fill="#fff" stroke="#000" stroke-width="1.3"/>
<rect x="1151.08" y="422.14" width="10.6" height="10.6" fill="#f00"/>
<rect x="1151.08" y="465.32" width="10.6" height="10.6" fill="#f00"/>
<rect x="1173.85" y="465.32" width="10.6" height="10.6" fill="#f00"/>
<rect x="1151.08" y="486.91" width="10.6" height="10.6" fill="#f00"/>
<rect x="1173.85" y="486.91" width="10.6" height="10.6" fill="#f00"/>
<rect x="1215.23" y="486.91" width="10.6" height="10.6" fill="#f00"/>
<circle cx="1179.15" cy="427.44" r="6.1" fill="#00ff00"/>
<circle cx="1220.53" cy="427.44" r="6.1" fill="#00ff00"/>
<circle cx="1220.53" cy="470.62" r="6.1" fill="#00ff00"/>
<circle cx="1291.28" cy="470.62" r="6.1" fill="#00ff00"/>
<circle cx="1291.28" cy="492.21" r="6.1" fill="#00ff00"/>
<circle cx="1362.02" cy="470.62" r="6.1" fill="#00ff00"/>
<circle cx="1362.02" cy="492.21" r="6.1" fill="#00ff00"/>
<circle cx="1414.15" cy="492.21" r="6.1" fill="#00ff00"/>
<circle cx="1484.9" cy="492.21" r="6.1" fill="#00ff00"/>
<path d="M1127.02 74.38 L1134.12 86.58 L1119.92 86.58 Z" fill="#0000ff"/>
<path d="M1156.38 74.38 L1163.48 86.58 L1149.28 86.58 Z" fill="#0000ff"/>
<path d="M1179.15 74.38 L1186.25 86.58 L1172.05 86.58 Z" fill="#0000ff"/>
<path d="M1156.38 290.29 L1163.48 302.49 L1149.28 302.49 Z" fill="#0000ff"/>
<path d="M1179.15 290.29 L1186.25 302.49 L1172.05 302.49 Z" fill="#0000ff"/>
<path d="M1291.28 290.29 L1298.38 302.49 L1284.18 302.49 Z" fill="#0000ff"/>
<path d="M1156.38 333.47 L1163.48 345.67 L1149.28 345.67 Z" fill="#0000ff"/>
<path d="M1179.15 333.47 L1186.25 345.67 L1172.05 345.67 Z" fill="#0000ff"/>
<path d="M1291.28 333.47 L1298.38 345.67 L1284.18 345.67 Z" fill="#0000ff"/>
<path d="M1156.38 376.65 L1163.48 388.85 L1149.28 388.85 Z" fill="#0000ff"/>
<path d="M1179.15 376.65 L1186.25 388.85 L1172.05 388.85 Z" fill="#0000ff"/>
<path d="M1220.53 376.65 L1227.63 388.85 L1213.43 388.85 Z" fill="#0000ff"/>
<path d="M1291.28 376.65 L1298.38 388.85 L1284.18 388.85 Z" fill="#0000ff"/>
<path d="M1414.15 376.65 L1421.25 388.85 L1407.05 388.85 Z" fill="#0000ff"/>
<path d="M1291.28 419.84 L1298.38 432.04 L1284.18 432.04 Z" fill="#0000ff"/>
<path d="M1362.02 419.84 L1369.12 432.04 L1354.92 432.04 Z" fill="#0000ff"/>
<path d="M1414.15 419.84 L1421.25 432.04 L1407.05 432.04 Z" fill="#0000ff"/>
<path d="M1414.15 463.02 L1421.25 475.22 L1407.05 475.22 Z" fill="#0000ff"/>
<path d="M1484.9 463.02 L1492 475.22 L1477.8 475.22 Z" fill="#0000ff"/>
<g clip-path="url(#p9)">
<path d="M81.4 628.65 L83.45 626.6M81.4 654.9 L109.7 626.6M81.4 681.15 L135.95 626.6M81.4 707.4 L162.2 626.6M81.4 733.65 L188.45 626.6M81.4 759.9 L214.7 626.6M81.4 786.15 L240.95 626.6M81.4 812.4 L267.2 626.6M81.4 838.65 L293.45 626.6M81.4 864.9 L319.7 626.6M81.4 891.15 L345.95 626.6M81.4 917.4 L372.2 626.6M81.4 943.65 L398.45 626.6M81.4 969.9 L424.7 626.6M81.4 996.15 L450.95 626.6M81.4 1022.4 L477.2 626.6M81.4 1048.65 L503.45 626.6M81.4 1074.9 L529.7 626.6M81.4 1101.15 L555.95 626.6M107.1 1101.7 L582.2 626.6M133.35 1101.7 L608.45 626.6M159.6 1101.7 L634.7 626.6M185.85 1101.7 L660.95 626.6M212.1 1101.7 L687.2 626.6M238.35 1101.7 L713.45 626.6M264.6 1101.7 L739.7 626.6M290.85 1101.7 L765.95 626.6M317.1 1101.7 L786.8 632M343.35 1101.7 L786.8 658.25M369.6 1101.7 L786.8 684.5M395.85 1101.7 L786.8 710.75M422.1 1101.7 L786.8 737M448.35 1101.7 L786.8 763.25M474.6 1101.7 L786.8 789.5M500.85 1101.7 L786.8 815.75M527.1 1101.7 L786.8 842M553.35 1101.7 L786.8 868.25M579.6 1101.7 L786.8 894.5M605.85 1101.7 L786.8 920.75M632.1 1101.7 L786.8 947M658.35 1101.7 L786.8 973.25M684.6 1101.7 L786.8 999.5M710.85 1101.7 L786.8 1025.75M737.1 1101.7 L786.8 1052M763.35 1101.7 L786.8 1078.25" stroke="#b5b5b5" stroke-width="1.4" fill="none"/>
</g>
<g clip-path="url(#p9)">
<path d="M244.61 622.28 L244.61 902.59 L279.3 916.84 L312.25 928.5 L345.06 941.03 L377.81 952.26 L411.01 965.65 L443.81 978.61 L476.72 988.54 L490 993.72 L526.44 1001.93 L570.28 1012.73 L610.42 1022.23 L654.76 1031.3 L696.3 1040.37 L742.11 1050.3 L786.35 1061.53 L792.32 1062.83 L792.32 622.28 Z" fill="#fff"/>
<path clip-path="url(#c10)" d="M81.4 632.1 L86.9 626.6M81.4 658.35 L113.15 626.6M81.4 684.6 L139.4 626.6M81.4 710.85 L165.65 626.6M81.4 737.1 L191.9 626.6M81.4 763.35 L218.15 626.6M81.4 789.6 L244.4 626.6M81.4 815.85 L270.65 626.6M81.4 842.1 L296.9 626.6M81.4 868.35 L323.15 626.6M81.4 894.6 L349.4 626.6M81.4 920.85 L375.65 626.6M81.4 947.1 L401.9 626.6M81.4 973.35 L428.15 626.6M81.4 999.6 L454.4 626.6M81.4 1025.85 L480.65 626.6M81.4 1052.1 L506.9 626.6M81.4 1078.35 L533.15 626.6M84.3 1101.7 L559.4 626.6M110.55 1101.7 L585.65 626.6M136.8 1101.7 L611.9 626.6M163.05 1101.7 L638.15 626.6M189.3 1101.7 L664.4 626.6M215.55 1101.7 L690.65 626.6M241.8 1101.7 L716.9 626.6M268.05 1101.7 L743.15 626.6M294.3 1101.7 L769.4 626.6M320.55 1101.7 L786.8 635.45M346.8 1101.7 L786.8 661.7M373.05 1101.7 L786.8 687.95M399.3 1101.7 L786.8 714.2M425.55 1101.7 L786.8 740.45M451.8 1101.7 L786.8 766.7M478.05 1101.7 L786.8 792.95M504.3 1101.7 L786.8 819.2M530.55 1101.7 L786.8 845.45M556.8 1101.7 L786.8 871.7M583.05 1101.7 L786.8 897.95M609.3 1101.7 L786.8 924.2M635.55 1101.7 L786.8 950.45M661.8 1101.7 L786.8 976.7M688.05 1101.7 L786.8 1002.95M714.3 1101.7 L786.8 1029.2M740.55 1101.7 L786.8 1055.45M766.8 1101.7 L786.8 1081.7" stroke="#0000ff" stroke-width="1.55" fill="none"/>
</g>
<g clip-path="url(#p9)">
<path d="M244.61 902.59 L244.61 944.05 L328 1000.63 L392.03 1041.23 L456.09 1079.67 L490 1080.54 L636.23 1084.21 L786.35 1088.31 L792.32 1088.53 L792.32 1062.83 L786.35 1061.53 L742.11 1050.3 L696.3 1040.37 L654.76 1031.3 L610.42 1022.23 L570.28 1012.73 L526.44 1001.93 L490 993.72 L476.72 988.54 L443.81 978.61 L411.01 965.65 L377.81 952.26 L345.06 941.03 L312.25 928.5 L279.3 916.84 Z" fill="#fff"/>
<path clip-path="url(#c11)" d="M81.4 646.75 L101.55 626.6M81.4 673 L127.8 626.6M81.4 699.25 L154.05 626.6M81.4 725.5 L180.3 626.6M81.4 751.75 L206.55 626.6M81.4 778 L232.8 626.6M81.4 804.25 L259.05 626.6M81.4 830.5 L285.3 626.6M81.4 856.75 L311.55 626.6M81.4 883 L337.8 626.6M81.4 909.25 L364.05 626.6M81.4 935.5 L390.3 626.6M81.4 961.75 L416.55 626.6M81.4 988 L442.8 626.6M81.4 1014.25 L469.05 626.6M81.4 1040.5 L495.3 626.6M81.4 1066.75 L521.55 626.6M81.4 1093 L547.8 626.6M98.95 1101.7 L574.05 626.6M125.2 1101.7 L600.3 626.6M151.45 1101.7 L626.55 626.6M177.7 1101.7 L652.8 626.6M203.95 1101.7 L679.05 626.6M230.2 1101.7 L705.3 626.6M256.45 1101.7 L731.55 626.6M282.7 1101.7 L757.8 626.6M308.95 1101.7 L784.05 626.6M335.2 1101.7 L786.8 650.1M361.45 1101.7 L786.8 676.35M387.7 1101.7 L786.8 702.6M413.95 1101.7 L786.8 728.85M440.2 1101.7 L786.8 755.1M466.45 1101.7 L786.8 781.35M492.7 1101.7 L786.8 807.6M518.95 1101.7 L786.8 833.85M545.2 1101.7 L786.8 860.1M571.45 1101.7 L786.8 886.35M597.7 1101.7 L786.8 912.6M623.95 1101.7 L786.8 938.85M650.2 1101.7 L786.8 965.1M676.45 1101.7 L786.8 991.35M702.7 1101.7 L786.8 1017.6M728.95 1101.7 L786.8 1043.85M755.2 1101.7 L786.8 1070.1M781.45 1101.7 L786.8 1096.35" stroke="#00ff00" stroke-width="1.5" fill="none"/>
</g>
<g clip-path="url(#p9)">
<path d="M244.61 944.05 L244.61 988.11 L246.88 1026.55 L251.27 1052.03 L266.06 1073.19 L456.09 1079.67 L392.03 1041.23 L328 1000.63 L244.61 944.05 Z" fill="#fff"/>
<path clip-path="url(#c12)" d="M81.4 634.95 L89.75 626.6M81.4 661.2 L116 626.6M81.4 687.45 L142.25 626.6M81.4 713.7 L168.5 626.6M81.4 739.95 L194.75 626.6M81.4 766.2 L221 626.6M81.4 792.45 L247.25 626.6M81.4 818.7 L273.5 626.6M81.4 844.95 L299.75 626.6M81.4 871.2 L326 626.6M81.4 897.45 L352.25 626.6M81.4 923.7 L378.5 626.6M81.4 949.95 L404.75 626.6M81.4 976.2 L431 626.6M81.4 1002.45 L457.25 626.6M81.4 1028.7 L483.5 626.6M81.4 1054.95 L509.75 626.6M81.4 1081.2 L536 626.6M87.15 1101.7 L562.25 626.6M113.4 1101.7 L588.5 626.6M139.65 1101.7 L614.75 626.6M165.9 1101.7 L641 626.6M192.15 1101.7 L667.25 626.6M218.4 1101.7 L693.5 626.6M244.65 1101.7 L719.75 626.6M270.9 1101.7 L746 626.6M297.15 1101.7 L772.25 626.6M323.4 1101.7 L786.8 638.3M349.65 1101.7 L786.8 664.55M375.9 1101.7 L786.8 690.8M402.15 1101.7 L786.8 717.05M428.4 1101.7 L786.8 743.3M454.65 1101.7 L786.8 769.55M480.9 1101.7 L786.8 795.8M507.15 1101.7 L786.8 822.05M533.4 1101.7 L786.8 848.3M559.65 1101.7 L786.8 874.55M585.9 1101.7 L786.8 900.8M612.15 1101.7 L786.8 927.05M638.4 1101.7 L786.8 953.3M664.65 1101.7 L786.8 979.55M690.9 1101.7 L786.8 1005.8M717.15 1101.7 L786.8 1032.05M743.4 1101.7 L786.8 1058.3M769.65 1101.7 L786.8 1084.55" stroke="#ff0000" stroke-width="1.5" fill="none"/>
</g>
<path d="M81.4 1099.7 H786.8" stroke="#b8b8b8" stroke-width="1.2" stroke-dasharray="7 4.6" fill="none"/>
<path clip-path="url(#p9)" d="M244.61 622.28 L244.61 902.59" stroke="#a8a8a8" stroke-width="1.4" fill="none" stroke-dasharray="3 8.6" stroke-dashoffset="3.3"/>
<path clip-path="url(#p9)" d="M244.61 902.59 L244.61 944.05" stroke="#a8a8a8" stroke-width="1.4" fill="none" stroke-dasharray="3 8.6" stroke-dashoffset="3.3"/>
<path clip-path="url(#p9)" d="M244.61 944.05 L328 1000.63 L392.03 1041.23 L456.09 1079.67" stroke="#00ff00" stroke-width="1.55" fill="none" stroke-dasharray="7 4.6" stroke-dashoffset="5.8"/>
<path clip-path="url(#p9)" d="M244.61 944.05 L244.61 988.11 L246.88 1026.55 L251.27 1052.03 L266.06 1073.19" stroke="#a8a8a8" stroke-width="1.4" fill="none" stroke-dasharray="3 8.6" stroke-dashoffset="3.3"/>
<path clip-path="url(#p9)" d="M266.06 1073.19 L456.09 1079.67" stroke="#a8a8a8" stroke-width="1.4" fill="none" stroke-dasharray="3 8.6" stroke-dashoffset="3.3"/>
<path clip-path="url(#p9)" d="M456.09 1079.67 L490 1080.54 L636.23 1084.21 L786.35 1088.31 L792.32 1088.53" stroke="#a8a8a8" stroke-width="1.4" fill="none" stroke-dasharray="3 8.6" stroke-dashoffset="3.3"/>
<path clip-path="url(#p9)" d="M244.61 622.28 L244.61 902.59" stroke="#0000ff" stroke-width="1.6" fill="none" stroke-dasharray="7 4.6" stroke-dashoffset="0"/>
<path clip-path="url(#p9)" d="M244.61 902.59 L279.3 916.84 L312.25 928.5 L345.06 941.03 L377.81 952.26 L411.01 965.65 L443.81 978.61 L476.72 988.54 L490 993.72 L526.44 1001.93 L570.28 1012.73 L610.42 1022.23 L654.76 1031.3 L696.3 1040.37 L742.11 1050.3 L786.35 1061.53 L792.32 1062.83" stroke="#0000ff" stroke-width="1.6" fill="none" stroke-dasharray="7 4.6" stroke-dashoffset="0"/>
<path clip-path="url(#p9)" d="M244.61 902.59 L244.61 944.05" stroke="#00ff00" stroke-width="1.6" fill="none" stroke-dasharray="7 4.6" stroke-dashoffset="0"/>
<path clip-path="url(#p9)" d="M244.61 944.05 L328 1000.63 L392.03 1041.23 L456.09 1079.67" stroke="#ff0000" stroke-width="1.6" fill="none" stroke-dasharray="7 4.6" stroke-dashoffset="0"/>
<path clip-path="url(#p9)" d="M244.61 944.05 L244.61 988.11 L246.88 1026.55 L251.27 1052.03 L266.06 1073.19" stroke="#ff0000" stroke-width="1.6" fill="none" stroke-dasharray="7 4.6" stroke-dashoffset="0"/>
<path clip-path="url(#p9)" d="M266.06 1073.19 L456.09 1079.67" stroke="#ff0000" stroke-width="1.6" fill="none" stroke-dasharray="7 4.6" stroke-dashoffset="0"/>
<path clip-path="url(#p9)" d="M456.09 1079.67 L490 1080.54 L636.23 1084.21 L786.35 1088.31 L792.32 1088.53" stroke="#00ff00" stroke-width="1.6" fill="none" stroke-dasharray="7 4.6" stroke-dashoffset="0"/>
<path d="M220.09 662.99 L226.89 669.79 L220.09 676.59 L213.29 669.79 Z" fill="#fff" stroke="#000" stroke-width="1.3"/>
<path d="M233.72 662.99 L240.52 669.79 L233.72 676.59 L226.92 669.79 Z" fill="#fff" stroke="#000" stroke-width="1.3"/>
<path d="M233.72 878.95 L240.52 885.75 L233.72 892.55 L226.92 885.75 Z" fill="#fff" stroke="#000" stroke-width="1.3"/>
<path d="M233.72 922.14 L240.52 928.94 L233.72 935.74 L226.92 928.94 Z" fill="#fff" stroke="#000" stroke-width="1.3"/>
<path d="M233.72 965.33 L240.52 972.13 L233.72 978.93 L226.92 972.13 Z" fill="#fff" stroke="#000" stroke-width="1.3"/>
<path d="M233.72 1008.52 L240.52 1015.32 L233.72 1022.12 L226.92 1015.32 Z" fill="#fff" stroke="#000" stroke-width="1.3"/>
<path d="M233.72 1051.71 L240.52 1058.51 L233.72 1065.31 L226.92 1058.51 Z" fill="#fff" stroke="#000" stroke-width="1.3"/>
<rect x="251.21" y="966.83" width="10.6" height="10.6" fill="#f00"/>
<rect x="269.83" y="1010.02" width="10.6" height="10.6" fill="#f00"/>
<rect x="321.99" y="1010.02" width="10.6" height="10.6" fill="#f00"/>
<rect x="269.83" y="1053.21" width="10.6" height="10.6" fill="#f00"/>
<rect x="299.21" y="1053.21" width="10.6" height="10.6" fill="#f00"/>
<rect x="321.99" y="1053.21" width="10.6" height="10.6" fill="#f00"/>
<rect x="392.77" y="1053.21" width="10.6" height="10.6" fill="#f00"/>
<circle cx="256.51" cy="928.94" r="6.1" fill="#00ff00"/>
<circle cx="327.29" cy="972.13" r="6.1" fill="#00ff00"/>
<circle cx="398.07" cy="972.13" r="6.1" fill="#00ff00"/>
<circle cx="398.07" cy="1015.32" r="6.1" fill="#00ff00"/>
<circle cx="468.86" cy="1015.32" r="6.1" fill="#00ff00"/>
<circle cx="468.86" cy="1058.51" r="6.1" fill="#00ff00"/>
<circle cx="562.43" cy="1015.32" r="6.1" fill="#00ff00"/>
<circle cx="562.43" cy="1058.51" r="6.1" fill="#00ff00"/>
<circle cx="633.21" cy="1058.51" r="6.1" fill="#00ff00"/>
<circle cx="674.61" cy="1058.51" r="6.1" fill="#00ff00"/>
<path d="M256.51 662.19 L263.61 674.39 L249.41 674.39 Z" fill="#0000ff"/>
<path d="M327.29 662.19 L334.39 674.39 L320.19 674.39 Z" fill="#0000ff"/>
<path d="M398.07 662.19 L405.17 674.39 L390.97 674.39 Z" fill="#0000ff"/>
<path d="M256.51 878.15 L263.61 890.35 L249.41 890.35 Z" fill="#0000ff"/>
<path d="M327.29 878.15 L334.39 890.35 L320.19 890.35 Z" fill="#0000ff"/>
<path d="M468.86 878.15 L475.96 890.35 L461.76 890.35 Z" fill="#0000ff"/>
<path d="M327.29 921.34 L334.39 933.54 L320.19 933.54 Z" fill="#0000ff"/>
<path d="M398.07 921.34 L405.17 933.54 L390.97 933.54 Z" fill="#0000ff"/>
<path d="M468.86 964.53 L475.96 976.73 L461.76 976.73 Z" fill="#0000ff"/>
<path d="M562.43 964.53 L569.53 976.73 L555.33 976.73 Z" fill="#0000ff"/>
<path d="M633.21 1007.72 L640.31 1019.92 L626.11 1019.92 Z" fill="#0000ff"/>
<g clip-path="url(#p13)">
<path d="M933.4 646.35 L953.25 626.5M933.4 672.6 L979.5 626.5M933.4 698.85 L1005.75 626.5M933.4 725.1 L1032 626.5M933.4 751.35 L1058.25 626.5M933.4 777.6 L1084.5 626.5M933.4 803.85 L1110.75 626.5M933.4 830.1 L1137 626.5M933.4 856.35 L1163.25 626.5M933.4 882.6 L1189.5 626.5M933.4 908.85 L1215.75 626.5M933.4 935.1 L1242 626.5M933.4 961.35 L1268.25 626.5M933.4 987.6 L1294.5 626.5M933.4 1013.85 L1320.75 626.5M933.4 1040.1 L1347 626.5M933.4 1066.35 L1373.25 626.5M933.4 1092.6 L1399.5 626.5M950.85 1101.4 L1425.75 626.5M977.1 1101.4 L1452 626.5M1003.35 1101.4 L1478.25 626.5M1029.6 1101.4 L1504.5 626.5M1055.85 1101.4 L1530.75 626.5M1082.1 1101.4 L1557 626.5M1108.35 1101.4 L1583.25 626.5M1134.6 1101.4 L1609.5 626.5M1160.85 1101.4 L1635.3 626.95M1187.1 1101.4 L1635.3 653.2M1213.35 1101.4 L1635.3 679.45M1239.6 1101.4 L1635.3 705.7M1265.85 1101.4 L1635.3 731.95M1292.1 1101.4 L1635.3 758.2M1318.35 1101.4 L1635.3 784.45M1344.6 1101.4 L1635.3 810.7M1370.85 1101.4 L1635.3 836.95M1397.1 1101.4 L1635.3 863.2M1423.35 1101.4 L1635.3 889.45M1449.6 1101.4 L1635.3 915.7M1475.85 1101.4 L1635.3 941.95M1502.1 1101.4 L1635.3 968.2M1528.35 1101.4 L1635.3 994.45M1554.6 1101.4 L1635.3 1020.7M1580.85 1101.4 L1635.3 1046.95M1607.1 1101.4 L1635.3 1073.2M1633.35 1101.4 L1635.3 1099.45" stroke="#d4d4d4" stroke-width="1.1" fill="none"/>
</g>
<g clip-path="url(#p13)">
<path d="M926.65 622.18 L926.65 863.09 L933.4 864.81 L1030.32 899.35 L1128.45 931.73 L1178.39 949.43 L1280.3 966.27 L1435.26 992.6 L1633.28 1009.01 L1642.05 1009.44 L1642.05 622.18 Z" fill="#fff"/>
<path clip-path="url(#c14)" d="M933.4 626.6 L933.5 626.5M933.4 652.85 L959.75 626.5M933.4 679.1 L986 626.5M933.4 705.35 L1012.25 626.5M933.4 731.6 L1038.5 626.5M933.4 757.85 L1064.75 626.5M933.4 784.1 L1091 626.5M933.4 810.35 L1117.25 626.5M933.4 836.6 L1143.5 626.5M933.4 862.85 L1169.75 626.5M933.4 889.1 L1196 626.5M933.4 915.35 L1222.25 626.5M933.4 941.6 L1248.5 626.5M933.4 967.85 L1274.75 626.5M933.4 994.1 L1301 626.5M933.4 1020.35 L1327.25 626.5M933.4 1046.6 L1353.5 626.5M933.4 1072.85 L1379.75 626.5M933.4 1099.1 L1406 626.5M957.35 1101.4 L1432.25 626.5M983.6 1101.4 L1458.5 626.5M1009.85 1101.4 L1484.75 626.5M1036.1 1101.4 L1511 626.5M1062.35 1101.4 L1537.25 626.5M1088.6 1101.4 L1563.5 626.5M1114.85 1101.4 L1589.75 626.5M1141.1 1101.4 L1616 626.5M1167.35 1101.4 L1635.3 633.45M1193.6 1101.4 L1635.3 659.7M1219.85 1101.4 L1635.3 685.95M1246.1 1101.4 L1635.3 712.2M1272.35 1101.4 L1635.3 738.45M1298.6 1101.4 L1635.3 764.7M1324.85 1101.4 L1635.3 790.95M1351.1 1101.4 L1635.3 817.2M1377.35 1101.4 L1635.3 843.45M1403.6 1101.4 L1635.3 869.7M1429.85 1101.4 L1635.3 895.95M1456.1 1101.4 L1635.3 922.2M1482.35 1101.4 L1635.3 948.45M1508.6 1101.4 L1635.3 974.7M1534.85 1101.4 L1635.3 1000.95M1561.1 1101.4 L1635.3 1027.2M1587.35 1101.4 L1635.3 1053.45M1613.6 1101.4 L1635.3 1079.7" stroke="#0000ff" stroke-width="1.55" fill="none"/>
</g>
<g clip-path="url(#p13)">
<path d="M926.65 863.09 L933.4 864.81 L1030.32 899.35 L1128.45 931.73 L1178.39 949.43 L1280.3 966.27 L1435.26 992.6 L1633.28 1009.01 L1642.05 1009.44 L1642.05 1063.41 L1633.28 1062.98 L1459.15 1046.14 L1280.3 1029.52 L1164.22 1015.05 L1058.93 975.77 L933.4 930.44 L926.65 928.71 Z" fill="#fff"/>
<path clip-path="url(#c15)" d="M933.4 629.65 L936.55 626.5M933.4 655.9 L962.8 626.5M933.4 682.15 L989.05 626.5M933.4 708.4 L1015.3 626.5M933.4 734.65 L1041.55 626.5M933.4 760.9 L1067.8 626.5M933.4 787.15 L1094.05 626.5M933.4 813.4 L1120.3 626.5M933.4 839.65 L1146.55 626.5M933.4 865.9 L1172.8 626.5M933.4 892.15 L1199.05 626.5M933.4 918.4 L1225.3 626.5M933.4 944.65 L1251.55 626.5M933.4 970.9 L1277.8 626.5M933.4 997.15 L1304.05 626.5M933.4 1023.4 L1330.3 626.5M933.4 1049.65 L1356.55 626.5M933.4 1075.9 L1382.8 626.5M934.15 1101.4 L1409.05 626.5M960.4 1101.4 L1435.3 626.5M986.65 1101.4 L1461.55 626.5M1012.9 1101.4 L1487.8 626.5M1039.15 1101.4 L1514.05 626.5M1065.4 1101.4 L1540.3 626.5M1091.65 1101.4 L1566.55 626.5M1117.9 1101.4 L1592.8 626.5M1144.15 1101.4 L1619.05 626.5M1170.4 1101.4 L1635.3 636.5M1196.65 1101.4 L1635.3 662.75M1222.9 1101.4 L1635.3 689M1249.15 1101.4 L1635.3 715.25M1275.4 1101.4 L1635.3 741.5M1301.65 1101.4 L1635.3 767.75M1327.9 1101.4 L1635.3 794M1354.15 1101.4 L1635.3 820.25M1380.4 1101.4 L1635.3 846.5M1406.65 1101.4 L1635.3 872.75M1432.9 1101.4 L1635.3 899M1459.15 1101.4 L1635.3 925.25M1485.4 1101.4 L1635.3 951.5M1511.65 1101.4 L1635.3 977.75M1537.9 1101.4 L1635.3 1004M1564.15 1101.4 L1635.3 1030.25M1590.4 1101.4 L1635.3 1056.5M1616.65 1101.4 L1635.3 1082.75" stroke="#00ff00" stroke-width="1.5" fill="none"/>
</g>
<g clip-path="url(#p13)">
<path d="M926.65 928.71 L933.4 930.44 L1058.93 975.77 L1164.22 1015.05 L1280.3 1029.52 L1459.15 1046.14 L1633.28 1062.98 L1642.05 1063.41 L1642.05 1072.47 L1633.28 1072.47 L1280.3 1069.02 L933.4 1065.31 L926.65 1065.13 Z" fill="#fff"/>
<path clip-path="url(#c16)" d="M933.4 643.15 L950.05 626.5M933.4 669.4 L976.3 626.5M933.4 695.65 L1002.55 626.5M933.4 721.9 L1028.8 626.5M933.4 748.15 L1055.05 626.5M933.4 774.4 L1081.3 626.5M933.4 800.65 L1107.55 626.5M933.4 826.9 L1133.8 626.5M933.4 853.15 L1160.05 626.5M933.4 879.4 L1186.3 626.5M933.4 905.65 L1212.55 626.5M933.4 931.9 L1238.8 626.5M933.4 958.15 L1265.05 626.5M933.4 984.4 L1291.3 626.5M933.4 1010.65 L1317.55 626.5M933.4 1036.9 L1343.8 626.5M933.4 1063.15 L1370.05 626.5M933.4 1089.4 L1396.3 626.5M947.65 1101.4 L1422.55 626.5M973.9 1101.4 L1448.8 626.5M1000.15 1101.4 L1475.05 626.5M1026.4 1101.4 L1501.3 626.5M1052.65 1101.4 L1527.55 626.5M1078.9 1101.4 L1553.8 626.5M1105.15 1101.4 L1580.05 626.5M1131.4 1101.4 L1606.3 626.5M1157.65 1101.4 L1632.55 626.5M1183.9 1101.4 L1635.3 650M1210.15 1101.4 L1635.3 676.25M1236.4 1101.4 L1635.3 702.5M1262.65 1101.4 L1635.3 728.75M1288.9 1101.4 L1635.3 755M1315.15 1101.4 L1635.3 781.25M1341.4 1101.4 L1635.3 807.5M1367.65 1101.4 L1635.3 833.75M1393.9 1101.4 L1635.3 860M1420.15 1101.4 L1635.3 886.25M1446.4 1101.4 L1635.3 912.5M1472.65 1101.4 L1635.3 938.75M1498.9 1101.4 L1635.3 965M1525.15 1101.4 L1635.3 991.25M1551.4 1101.4 L1635.3 1017.5M1577.65 1101.4 L1635.3 1043.75M1603.9 1101.4 L1635.3 1070M1630.15 1101.4 L1635.3 1096.25" stroke="#ff0000" stroke-width="1.5" fill="none"/>
</g>
<path clip-path="url(#p13)" d="M933.4 864.81 L1030.32 899.35 L1128.45 931.73 L1178.39 949.43 L1280.3 966.27 L1435.26 992.6 L1633.28 1009.01 L1642.05 1009.44" stroke="#00ff00" stroke-width="1.55" fill="none" stroke-dasharray="7 4.6" stroke-dashoffset="5.8"/>
<path clip-path="url(#p13)" d="M933.4 930.44 L1058.93 975.77 L1164.22 1015.05 L1280.3 1029.52 L1459.15 1046.14 L1633.28 1062.98 L1642.05 1063.41" stroke="#ff0000" stroke-width="1.55" fill="none" stroke-dasharray="7 4.6" stroke-dashoffset="5.8"/>
<path clip-path="url(#p13)" d="M933.4 1065.31 L1280.3 1069.02 L1633.28 1072.47 L1642.05 1072.47" stroke="#a8a8a8" stroke-width="1.4" fill="none" stroke-dasharray="3 8.6" stroke-dashoffset="3.3"/>
<path clip-path="url(#p13)" d="M933.4 622.18 L933.4 864.81" stroke="#0000ff" stroke-width="1.6" fill="none" stroke-dasharray="7 4.6" stroke-dashoffset="0"/>
<path clip-path="url(#p13)" d="M933.4 864.81 L1030.32 899.35 L1128.45 931.73 L1178.39 949.43 L1280.3 966.27 L1435.26 992.6 L1633.28 1009.01 L1642.05 1009.44" stroke="#0000ff" stroke-width="1.6" fill="none" stroke-dasharray="7 4.6" stroke-dashoffset="0"/>
<path clip-path="url(#p13)" d="M933.4 930.44 L1058.93 975.77 L1164.22 1015.05 L1280.3 1029.52 L1459.15 1046.14 L1633.28 1062.98 L1642.05 1063.41" stroke="#00ff00" stroke-width="1.6" fill="none" stroke-dasharray="7 4.6" stroke-dashoffset="0"/>
<path clip-path="url(#p13)" d="M933.4 1065.31 L1280.3 1069.02 L1633.28 1072.47 L1642.05 1072.47" stroke="#ff0000" stroke-width="1.6" fill="none" stroke-dasharray="7 4.6" stroke-dashoffset="0"/>
<rect x="941.6" y="966.58" width="10.6" height="10.6" fill="#f00"/>
<rect x="941.6" y="1009.75" width="10.6" height="10.6" fill="#f00"/>
<rect x="941.6" y="1031.34" width="10.6" height="10.6" fill="#f00"/>
<rect x="941.6" y="1052.93" width="10.6" height="10.6" fill="#f00"/>
<rect x="1009.09" y="966.58" width="10.6" height="10.6" fill="#f00"/>
<rect x="1009.09" y="1009.75" width="10.6" height="10.6" fill="#f00"/>
<rect x="1009.09" y="1031.34" width="10.6" height="10.6" fill="#f00"/>
<rect x="1009.09" y="1052.93" width="10.6" height="10.6" fill="#f00"/>
<rect x="1076.58" y="1009.75" width="10.6" height="10.6" fill="#f00"/>
<rect x="1076.58" y="1052.93" width="10.6" height="10.6" fill="#f00"/>
<rect x="1144.07" y="1052.93" width="10.6" height="10.6" fill="#f00"/>
<rect x="1211.56" y="1052.93" width="10.6" height="10.6" fill="#f00"/>
<rect x="1346.54" y="1052.93" width="10.6" height="10.6" fill="#f00"/>
<rect x="1481.52" y="1052.93" width="10.6" height="10.6" fill="#f00"/>
<circle cx="946.9" cy="885.54" r="6.1" fill="#00ff00"/>
<circle cx="1081.88" cy="971.88" r="6.1" fill="#00ff00"/>
<circle cx="1216.86" cy="971.88" r="6.1" fill="#00ff00"/>
<circle cx="1216.86" cy="1015.05" r="6.1" fill="#00ff00"/>
<circle cx="1351.84" cy="1015.05" r="6.1" fill="#00ff00"/>
<circle cx="1486.82" cy="1015.05" r="6.1" fill="#00ff00"/>
<circle cx="1621.8" cy="1015.05" r="6.1" fill="#00ff00"/>
<circle cx="1621.8" cy="1058.23" r="6.1" fill="#00ff00"/>
<path d="M946.9 662.07 L954 674.27 L939.8 674.27 Z" fill="#0000ff"/>
<path d="M946.9 770 L954 782.2 L939.8 782.2 Z" fill="#0000ff"/>
<path d="M1014.39 662.07 L1021.49 674.27 L1007.29 674.27 Z" fill="#0000ff"/>
<path d="M1014.39 877.94 L1021.49 890.14 L1007.29 890.14 Z" fill="#0000ff"/>
<path d="M1216.86 877.94 L1223.96 890.14 L1209.76 890.14 Z" fill="#0000ff"/>
<path d="M1351.84 964.28 L1358.94 976.48 L1344.74 976.48 Z" fill="#0000ff"/>
<path d="M1486.82 964.28 L1493.92 976.48 L1479.72 976.48 Z" fill="#0000ff"/>
<path d="M72.4 513.8 H81.4M777.8 513.8 H786.8M76.9 492.21 H81.4M782.3 492.21 H786.8M72.4 470.62 H81.4M777.8 470.62 H786.8M76.9 449.03 H81.4M782.3 449.03 H786.8M72.4 427.44 H81.4M777.8 427.44 H786.8M76.9 405.85 H81.4M782.3 405.85 H786.8M72.4 384.25 H81.4M777.8 384.25 H786.8M76.9 362.66 H81.4M782.3 362.66 H786.8M72.4 341.07 H81.4M777.8 341.07 H786.8M76.9 319.48 H81.4M782.3 319.48 H786.8M72.4 297.89 H81.4M777.8 297.89 H786.8M76.9 276.3 H81.4M782.3 276.3 H786.8M72.4 254.71 H81.4M777.8 254.71 H786.8M76.9 233.12 H81.4M782.3 233.12 H786.8M72.4 211.53 H81.4M777.8 211.53 H786.8M76.9 189.94 H81.4M782.3 189.94 H786.8M72.4 168.35 H81.4M777.8 168.35 H786.8M76.9 146.75 H81.4M782.3 146.75 H786.8M72.4 125.16 H81.4M777.8 125.16 H786.8M76.9 103.57 H81.4M782.3 103.57 H786.8M72.4 81.98 H81.4M777.8 81.98 H786.8M76.9 60.39 H81.4M782.3 60.39 H786.8M72.4 38.8 H81.4M777.8 38.8 H786.8M92.16 513.8 V522.8M92.16 38.8 V47.8M327.29 513.8 V522.8M327.29 38.8 V47.8M562.43 513.8 V522.8M562.43 38.8 V47.8M81.4 513.8 V518.3M81.4 38.8 V43.3M162.94 513.8 V518.3M162.94 38.8 V43.3M204.35 513.8 V518.3M204.35 38.8 V43.3M233.72 513.8 V518.3M233.72 38.8 V43.3M256.51 513.8 V518.3M256.51 38.8 V43.3M275.13 513.8 V518.3M275.13 38.8 V43.3M290.87 513.8 V518.3M290.87 38.8 V43.3M304.51 513.8 V518.3M304.51 38.8 V43.3M316.53 513.8 V518.3M316.53 38.8 V43.3M398.07 513.8 V518.3M398.07 38.8 V43.3M439.48 513.8 V518.3M439.48 38.8 V43.3M468.86 513.8 V518.3M468.86 38.8 V43.3M491.64 513.8 V518.3M491.64 38.8 V43.3M510.26 513.8 V518.3M510.26 38.8 V43.3M526 513.8 V518.3M526 38.8 V43.3M539.64 513.8 V518.3M539.64 38.8 V43.3M551.67 513.8 V518.3M551.67 38.8 V43.3M633.21 513.8 V518.3M633.21 38.8 V43.3M674.61 513.8 V518.3M674.61 38.8 V43.3M703.99 513.8 V518.3M703.99 38.8 V43.3M726.78 513.8 V518.3M726.78 38.8 V43.3M745.4 513.8 V518.3M745.4 38.8 V43.3M761.14 513.8 V518.3M761.14 38.8 V43.3M774.77 513.8 V518.3M774.77 38.8 V43.3M786.8 513.8 V518.3M786.8 38.8 V43.3" stroke="#000" stroke-width="2" fill="none"/>
<rect x="81.4" y="38.8" width="705.4" height="475" stroke="#000" stroke-width="2" fill="none"/>
<text transform="translate(65 520.2) scale(1 1.04)" font-size="20" text-anchor="end">0</text>
<text transform="translate(65 477.02) scale(1 1.04)" font-size="20" text-anchor="end">10</text>
<text transform="translate(65 433.84) scale(1 1.04)" font-size="20" text-anchor="end">20</text>
<text transform="translate(65 390.65) scale(1 1.04)" font-size="20" text-anchor="end">30</text>
<text transform="translate(65 347.47) scale(1 1.04)" font-size="20" text-anchor="end">40</text>
<text transform="translate(65 304.29) scale(1 1.04)" font-size="20" text-anchor="end">50</text>
<text transform="translate(65 261.11) scale(1 1.04)" font-size="20" text-anchor="end">60</text>
<text transform="translate(65 217.93) scale(1 1.04)" font-size="20" text-anchor="end">70</text>
<text transform="translate(65 174.75) scale(1 1.04)" font-size="20" text-anchor="end">80</text>
<text transform="translate(65 131.56) scale(1 1.04)" font-size="20" text-anchor="end">90</text>
<text transform="translate(65 88.38) scale(1 1.04)" font-size="20" text-anchor="end">100</text>
<text transform="translate(65 45.2) scale(1 1.04)" font-size="20" text-anchor="end">110</text>
<text transform="translate(92.16 548.7) scale(1 1.04)" font-size="20" text-anchor="middle">10<tspan font-size="13.5" dy="-8.5">-1</tspan></text>
<text transform="translate(327.29 548.7) scale(1 1.04)" font-size="20" text-anchor="middle">10<tspan font-size="13.5" dy="-8.5">0</tspan></text>
<text transform="translate(562.43 548.7) scale(1 1.04)" font-size="20" text-anchor="middle">10<tspan font-size="13.5" dy="-8.5">1</tspan></text>
<path d="M924.4 513.8 H933.4M1629.4 513.8 H1638.4M928.9 492.21 H933.4M1633.9 492.21 H1638.4M924.4 470.62 H933.4M1629.4 470.62 H1638.4M928.9 449.03 H933.4M1633.9 449.03 H1638.4M924.4 427.44 H933.4M1629.4 427.44 H1638.4M928.9 405.85 H933.4M1633.9 405.85 H1638.4M924.4 384.25 H933.4M1629.4 384.25 H1638.4M928.9 362.66 H933.4M1633.9 362.66 H1638.4M924.4 341.07 H933.4M1629.4 341.07 H1638.4M928.9 319.48 H933.4M1633.9 319.48 H1638.4M924.4 297.89 H933.4M1629.4 297.89 H1638.4M928.9 276.3 H933.4M1633.9 276.3 H1638.4M924.4 254.71 H933.4M1629.4 254.71 H1638.4M928.9 233.12 H933.4M1633.9 233.12 H1638.4M924.4 211.53 H933.4M1629.4 211.53 H1638.4M928.9 189.94 H933.4M1633.9 189.94 H1638.4M924.4 168.35 H933.4M1629.4 168.35 H1638.4M928.9 146.75 H933.4M1633.9 146.75 H1638.4M924.4 125.16 H933.4M1629.4 125.16 H1638.4M928.9 103.57 H933.4M1633.9 103.57 H1638.4M924.4 81.98 H933.4M1629.4 81.98 H1638.4M928.9 60.39 H933.4M1633.9 60.39 H1638.4M924.4 38.8 H933.4M1629.4 38.8 H1638.4M944.15 513.8 V522.8M944.15 38.8 V47.8M1179.15 513.8 V522.8M1179.15 38.8 V47.8M1414.15 513.8 V522.8M1414.15 38.8 V47.8M933.4 513.8 V518.3M933.4 38.8 V43.3M1014.9 513.8 V518.3M1014.9 38.8 V43.3M1056.28 513.8 V518.3M1056.28 38.8 V43.3M1085.64 513.8 V518.3M1085.64 38.8 V43.3M1108.41 513.8 V518.3M1108.41 38.8 V43.3M1127.02 513.8 V518.3M1127.02 38.8 V43.3M1142.75 513.8 V518.3M1142.75 38.8 V43.3M1156.38 513.8 V518.3M1156.38 38.8 V43.3M1168.4 513.8 V518.3M1168.4 38.8 V43.3M1249.9 513.8 V518.3M1249.9 38.8 V43.3M1291.28 513.8 V518.3M1291.28 38.8 V43.3M1320.64 513.8 V518.3M1320.64 38.8 V43.3M1343.41 513.8 V518.3M1343.41 38.8 V43.3M1362.02 513.8 V518.3M1362.02 38.8 V43.3M1377.75 513.8 V518.3M1377.75 38.8 V43.3M1391.38 513.8 V518.3M1391.38 38.8 V43.3M1403.4 513.8 V518.3M1403.4 38.8 V43.3M1484.9 513.8 V518.3M1484.9 38.8 V43.3M1526.28 513.8 V518.3M1526.28 38.8 V43.3M1555.64 513.8 V518.3M1555.64 38.8 V43.3M1578.41 513.8 V518.3M1578.41 38.8 V43.3M1597.02 513.8 V518.3M1597.02 38.8 V43.3M1612.75 513.8 V518.3M1612.75 38.8 V43.3M1626.38 513.8 V518.3M1626.38 38.8 V43.3M1638.4 513.8 V518.3M1638.4 38.8 V43.3" stroke="#000" stroke-width="2" fill="none"/>
<rect x="933.4" y="38.8" width="705" height="475" stroke="#000" stroke-width="2" fill="none"/>
<text transform="translate(917 520.2) scale(1 1.04)" font-size="20" text-anchor="end">0</text>
<text transform="translate(917 477.02) scale(1 1.04)" font-size="20" text-anchor="end">10</text>
<text transform="translate(917 433.84) scale(1 1.04)" font-size="20" text-anchor="end">20</text>
<text transform="translate(917 390.65) scale(1 1.04)" font-size="20" text-anchor="end">30</text>
<text transform="translate(917 347.47) scale(1 1.04)" font-size="20" text-anchor="end">40</text>
<text transform="translate(917 304.29) scale(1 1.04)" font-size="20" text-anchor="end">50</text>
<text transform="translate(917 261.11) scale(1 1.04)" font-size="20" text-anchor="end">60</text>
<text transform="translate(917 217.93) scale(1 1.04)" font-size="20" text-anchor="end">70</text>
<text transform="translate(917 174.75) scale(1 1.04)" font-size="20" text-anchor="end">80</text>
<text transform="translate(917 131.56) scale(1 1.04)" font-size="20" text-anchor="end">90</text>
<text transform="translate(917 88.38) scale(1 1.04)" font-size="20" text-anchor="end">100</text>
<text transform="translate(917 45.2) scale(1 1.04)" font-size="20" text-anchor="end">110</text>
<text transform="translate(944.15 548.7) scale(1 1.04)" font-size="20" text-anchor="middle">10<tspan font-size="13.5" dy="-8.5">-1</tspan></text>
<text transform="translate(1179.15 548.7) scale(1 1.04)" font-size="20" text-anchor="middle">10<tspan font-size="13.5" dy="-8.5">0</tspan></text>
<text transform="translate(1414.15 548.7) scale(1 1.04)" font-size="20" text-anchor="middle">10<tspan font-size="13.5" dy="-8.5">1</tspan></text>
<path d="M72.4 1101.7 H81.4M777.8 1101.7 H786.8M76.9 1080.1 H81.4M782.3 1080.1 H786.8M72.4 1058.51 H81.4M777.8 1058.51 H786.8M76.9 1036.91 H81.4M782.3 1036.91 H786.8M72.4 1015.32 H81.4M777.8 1015.32 H786.8M76.9 993.72 H81.4M782.3 993.72 H786.8M72.4 972.13 H81.4M777.8 972.13 H786.8M76.9 950.53 H81.4M782.3 950.53 H786.8M72.4 928.94 H81.4M777.8 928.94 H786.8M76.9 907.34 H81.4M782.3 907.34 H786.8M72.4 885.75 H81.4M777.8 885.75 H786.8M76.9 864.15 H81.4M782.3 864.15 H786.8M72.4 842.55 H81.4M777.8 842.55 H786.8M76.9 820.96 H81.4M782.3 820.96 H786.8M72.4 799.36 H81.4M777.8 799.36 H786.8M76.9 777.77 H81.4M782.3 777.77 H786.8M72.4 756.17 H81.4M777.8 756.17 H786.8M76.9 734.58 H81.4M782.3 734.58 H786.8M72.4 712.98 H81.4M777.8 712.98 H786.8M76.9 691.39 H81.4M782.3 691.39 H786.8M72.4 669.79 H81.4M777.8 669.79 H786.8M76.9 648.2 H81.4M782.3 648.2 H786.8M72.4 626.6 H81.4M777.8 626.6 H786.8M92.16 1101.7 V1110.7M92.16 626.6 V635.6M327.29 1101.7 V1110.7M327.29 626.6 V635.6M562.43 1101.7 V1110.7M562.43 626.6 V635.6M81.4 1101.7 V1106.2M81.4 626.6 V631.1M162.94 1101.7 V1106.2M162.94 626.6 V631.1M204.35 1101.7 V1106.2M204.35 626.6 V631.1M233.72 1101.7 V1106.2M233.72 626.6 V631.1M256.51 1101.7 V1106.2M256.51 626.6 V631.1M275.13 1101.7 V1106.2M275.13 626.6 V631.1M290.87 1101.7 V1106.2M290.87 626.6 V631.1M304.51 1101.7 V1106.2M304.51 626.6 V631.1M316.53 1101.7 V1106.2M316.53 626.6 V631.1M398.07 1101.7 V1106.2M398.07 626.6 V631.1M439.48 1101.7 V1106.2M439.48 626.6 V631.1M468.86 1101.7 V1106.2M468.86 626.6 V631.1M491.64 1101.7 V1106.2M491.64 626.6 V631.1M510.26 1101.7 V1106.2M510.26 626.6 V631.1M526 1101.7 V1106.2M526 626.6 V631.1M539.64 1101.7 V1106.2M539.64 626.6 V631.1M551.67 1101.7 V1106.2M551.67 626.6 V631.1M633.21 1101.7 V1106.2M633.21 626.6 V631.1M674.61 1101.7 V1106.2M674.61 626.6 V631.1M703.99 1101.7 V1106.2M703.99 626.6 V631.1M726.78 1101.7 V1106.2M726.78 626.6 V631.1M745.4 1101.7 V1106.2M745.4 626.6 V631.1M761.14 1101.7 V1106.2M761.14 626.6 V631.1M774.77 1101.7 V1106.2M774.77 626.6 V631.1M786.8 1101.7 V1106.2M786.8 626.6 V631.1" stroke="#000" stroke-width="2" fill="none"/>
<rect x="81.4" y="626.6" width="705.4" height="475.1" stroke="#000" stroke-width="2" fill="none"/>
<text transform="translate(65 1108.1) scale(1 1.04)" font-size="20" text-anchor="end">0</text>
<text transform="translate(65 1064.91) scale(1 1.04)" font-size="20" text-anchor="end">10</text>
<text transform="translate(65 1021.72) scale(1 1.04)" font-size="20" text-anchor="end">20</text>
<text transform="translate(65 978.53) scale(1 1.04)" font-size="20" text-anchor="end">30</text>
<text transform="translate(65 935.34) scale(1 1.04)" font-size="20" text-anchor="end">40</text>
<text transform="translate(65 892.15) scale(1 1.04)" font-size="20" text-anchor="end">50</text>
<text transform="translate(65 848.95) scale(1 1.04)" font-size="20" text-anchor="end">60</text>
<text transform="translate(65 805.76) scale(1 1.04)" font-size="20" text-anchor="end">70</text>
<text transform="translate(65 762.57) scale(1 1.04)" font-size="20" text-anchor="end">80</text>
<text transform="translate(65 719.38) scale(1 1.04)" font-size="20" text-anchor="end">90</text>
<text transform="translate(65 676.19) scale(1 1.04)" font-size="20" text-anchor="end">100</text>
<text transform="translate(65 633) scale(1 1.04)" font-size="20" text-anchor="end">110</text>
<text transform="translate(92.16 1136) scale(1 1.04)" font-size="20" text-anchor="middle">10<tspan font-size="13.5" dy="-8.5">-1</tspan></text>
<text transform="translate(327.29 1136) scale(1 1.04)" font-size="20" text-anchor="middle">10<tspan font-size="13.5" dy="-8.5">0</tspan></text>
<text transform="translate(562.43 1136) scale(1 1.04)" font-size="20" text-anchor="middle">10<tspan font-size="13.5" dy="-8.5">1</tspan></text>
<path d="M924.4 1101.4 H933.4M1626.3 1101.4 H1635.3M928.9 1079.81 H933.4M1630.8 1079.81 H1635.3M924.4 1058.23 H933.4M1626.3 1058.23 H1635.3M928.9 1036.64 H933.4M1630.8 1036.64 H1635.3M924.4 1015.05 H933.4M1626.3 1015.05 H1635.3M928.9 993.47 H933.4M1630.8 993.47 H1635.3M924.4 971.88 H933.4M1626.3 971.88 H1635.3M928.9 950.3 H933.4M1630.8 950.3 H1635.3M924.4 928.71 H933.4M1626.3 928.71 H1635.3M928.9 907.12 H933.4M1630.8 907.12 H1635.3M924.4 885.54 H933.4M1626.3 885.54 H1635.3M928.9 863.95 H933.4M1630.8 863.95 H1635.3M924.4 842.36 H933.4M1626.3 842.36 H1635.3M928.9 820.78 H933.4M1630.8 820.78 H1635.3M924.4 799.19 H933.4M1626.3 799.19 H1635.3M928.9 777.6 H933.4M1630.8 777.6 H1635.3M924.4 756.02 H933.4M1626.3 756.02 H1635.3M928.9 734.43 H933.4M1630.8 734.43 H1635.3M924.4 712.85 H933.4M1626.3 712.85 H1635.3M928.9 691.26 H933.4M1630.8 691.26 H1635.3M924.4 669.67 H933.4M1626.3 669.67 H1635.3M928.9 648.09 H933.4M1630.8 648.09 H1635.3M924.4 626.5 H933.4M1626.3 626.5 H1635.3M946.9 1101.4 V1110.4M946.9 626.5 V635.5M1014.39 1101.4 V1110.4M1014.39 626.5 V635.5M1081.88 1101.4 V1110.4M1081.88 626.5 V635.5M1149.37 1101.4 V1110.4M1149.37 626.5 V635.5M1216.86 1101.4 V1110.4M1216.86 626.5 V635.5M1284.35 1101.4 V1110.4M1284.35 626.5 V635.5M1351.84 1101.4 V1110.4M1351.84 626.5 V635.5M1419.33 1101.4 V1110.4M1419.33 626.5 V635.5M1486.82 1101.4 V1110.4M1486.82 626.5 V635.5M1554.31 1101.4 V1110.4M1554.31 626.5 V635.5M1621.8 1101.4 V1110.4M1621.8 626.5 V635.5M980.64 1101.4 V1105.9M980.64 626.5 V631M1048.13 1101.4 V1105.9M1048.13 626.5 V631M1115.62 1101.4 V1105.9M1115.62 626.5 V631M1183.11 1101.4 V1105.9M1183.11 626.5 V631M1250.6 1101.4 V1105.9M1250.6 626.5 V631M1318.1 1101.4 V1105.9M1318.1 626.5 V631M1385.59 1101.4 V1105.9M1385.59 626.5 V631M1453.08 1101.4 V1105.9M1453.08 626.5 V631M1520.57 1101.4 V1105.9M1520.57 626.5 V631M1588.06 1101.4 V1105.9M1588.06 626.5 V631" stroke="#000" stroke-width="2" fill="none"/>
<rect x="933.4" y="626.5" width="701.9" height="474.9" stroke="#000" stroke-width="2" fill="none"/>
<text transform="translate(917 1107.8) scale(1 1.04)" font-size="20" text-anchor="end">0</text>
<text transform="translate(917 1064.63) scale(1 1.04)" font-size="20" text-anchor="end">10</text>
<text transform="translate(917 1021.45) scale(1 1.04)" font-size="20" text-anchor="end">20</text>
<text transform="translate(917 978.28) scale(1 1.04)" font-size="20" text-anchor="end">30</text>
<text transform="translate(917 935.11) scale(1 1.04)" font-size="20" text-anchor="end">40</text>
<text transform="translate(917 891.94) scale(1 1.04)" font-size="20" text-anchor="end">50</text>
<text transform="translate(917 848.76) scale(1 1.04)" font-size="20" text-anchor="end">60</text>
<text transform="translate(917 805.59) scale(1 1.04)" font-size="20" text-anchor="end">70</text>
<text transform="translate(917 762.42) scale(1 1.04)" font-size="20" text-anchor="end">80</text>
<text transform="translate(917 719.25) scale(1 1.04)" font-size="20" text-anchor="end">90</text>
<text transform="translate(917 676.07) scale(1 1.04)" font-size="20" text-anchor="end">100</text>
<text transform="translate(917 632.9) scale(1 1.04)" font-size="20" text-anchor="end">110</text>
<text transform="translate(946.9 1133.2) scale(1 1.04)" font-size="20" text-anchor="middle">0.0</text>
<text transform="translate(1014.39 1133.2) scale(1 1.04)" font-size="20" text-anchor="middle">0.1</text>
<text transform="translate(1081.88 1133.2) scale(1 1.04)" font-size="20" text-anchor="middle">0.2</text>
<text transform="translate(1149.37 1133.2) scale(1 1.04)" font-size="20" text-anchor="middle">0.3</text>
<text transform="translate(1216.86 1133.2) scale(1 1.04)" font-size="20" text-anchor="middle">0.4</text>
<text transform="translate(1284.35 1133.2) scale(1 1.04)" font-size="20" text-anchor="middle">0.5</text>
<text transform="translate(1351.84 1133.2) scale(1 1.04)" font-size="20" text-anchor="middle">0.6</text>
<text transform="translate(1419.33 1133.2) scale(1 1.04)" font-size="20" text-anchor="middle">0.7</text>
<text transform="translate(1486.82 1133.2) scale(1 1.04)" font-size="20" text-anchor="middle">0.8</text>
<text transform="translate(1554.31 1133.2) scale(1 1.04)" font-size="20" text-anchor="middle">0.9</text>
<text transform="translate(1621.8 1133.2) scale(1 1.04)" font-size="20" text-anchor="middle">1.0</text>
<text transform="translate(431.5 583.6) scale(1 1.04)" font-size="24" text-anchor="middle">Salt/surfactant ratio</text>
<text transform="translate(21.8 280) rotate(-90) scale(1 1.04)" font-size="24" text-anchor="middle">Surfactant concentration (mM)</text>
<text transform="translate(1283.3 583.3) scale(1 1.04)" font-size="24" text-anchor="middle">Salt/surfactant ratio</text>
<text transform="translate(873.8 280) rotate(-90) scale(1 1.04)" font-size="24" text-anchor="middle">Surfactant concentration (mM)</text>
<text transform="translate(431.5 1170.1) scale(1 1.04)" font-size="24" text-anchor="middle">Salt/surfactant ratio</text>
<text transform="translate(21.8 867.85) rotate(-90) scale(1 1.04)" font-size="24" text-anchor="middle">Surfactant concentration (mM)</text>
<text transform="translate(1281.75 1169.7) scale(1 1.04)" font-size="24" text-anchor="middle">Salt/surfactant ratio</text>
<text transform="translate(873.8 867.65) rotate(-90) scale(1 1.04)" font-size="24" text-anchor="middle">Surfactant concentration (mM)</text>
<text transform="translate(0.2 21.3) scale(1 1.04)" font-size="29" text-anchor="start" font-weight="bold">(a)</text>
<text transform="translate(852.6 21.3) scale(1 1.04)" font-size="29" text-anchor="start" font-weight="bold">(b)</text>
<text transform="translate(0 611.4) scale(1 1.04)" font-size="29" text-anchor="start" font-weight="bold">(c)</text>
<text transform="translate(853 611.4) scale(1 1.04)" font-size="29" text-anchor="start" font-weight="bold">(d)</text>
<rect x="550.4" y="44.4" width="222.1" height="154.7" fill="#fff" stroke="#2a2a2a" stroke-width="1.5"/>
<text transform="translate(554 68.8) scale(1 1.04)" font-size="24" text-anchor="start">CTAB/NaSal</text>
<text transform="translate(554 95) scale(1 1.04)" font-size="19.5" text-anchor="start">flow behavior in filament</text>
<path d="M575.5 105.5 L582.3 112.3 L575.5 119.1 L568.7 112.3 Z" fill="#fff" stroke="#000" stroke-width="1.3"/>
<text transform="translate(604 118.7) scale(1 1.04)" font-size="19.5" text-anchor="start">no filament</text>
<rect x="570.2" y="131.25" width="10.6" height="10.6" fill="#f00"/>
<text transform="translate(604 142.9) scale(1 1.04)" font-size="19.5" text-anchor="start">heterogeneous</text>
<circle cx="575.5" cy="160.8" r="6.1" fill="#00ff00"/>
<text transform="translate(604 167.1) scale(1 1.04)" font-size="19.5" text-anchor="start">transition</text>
<path d="M575.5 177.45 L582.6 189.65 L568.4 189.65 Z" fill="#0000ff"/>
<text transform="translate(604 191.3) scale(1 1.04)" font-size="19.5" text-anchor="start">homogenous</text>
<rect x="1472.2" y="44.2" width="147.4" height="32.9" fill="#fff" stroke="#2a2a2a" stroke-width="1.5"/>
<text transform="translate(1475.7 68.8) scale(1 1.04)" font-size="24" text-anchor="start">CPyCl/NaSal</text>
<rect x="626.6" y="631.6" width="145.8" height="33" fill="#fff" stroke="#2a2a2a" stroke-width="1.5"/>
<text transform="translate(629.5 656.7) scale(1 1.04)" font-size="24" text-anchor="start">CTAC/NaSal</text>
<rect x="1470.1" y="631.7" width="149.1" height="32.6" fill="#fff" stroke="#2a2a2a" stroke-width="1.5"/>
<text transform="translate(1474.2 656.7) scale(1 1.04)" font-size="24" text-anchor="start">CTAT/NaTos</text>
</svg></body></html>
